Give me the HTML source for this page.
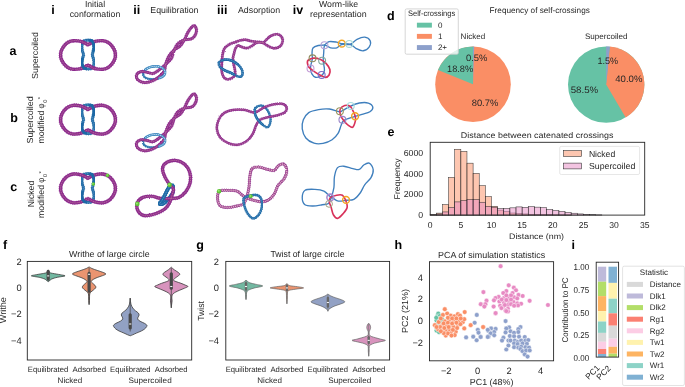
<!DOCTYPE html>
<html lang="en"><head><meta charset="utf-8"><title>Figure</title>
<style>html,body{margin:0;padding:0;background:#fff;}svg{display:block;}</style></head>
<body>
<svg width="685" height="387" viewBox="0 0 685 387" font-family='"Liberation Sans", Arial, Helvetica, sans-serif' fill="#262626" text-rendering="geometricPrecision">
<rect width="685" height="387" fill="#ffffff"/>
<defs><filter id="soft" x="0" y="0" width="100%" height="100%" filterUnits="userSpaceOnUse" color-interpolation-filters="sRGB"><feGaussianBlur stdDeviation="0.32"/></filter><filter id="rough" x="-5%" y="-5%" width="110%" height="110%"><feTurbulence type="fractalNoise" baseFrequency="0.45" numOctaves="2" seed="7" result="n"/><feDisplacementMap in="SourceGraphic" in2="n" scale="1.5" xChannelSelector="R" yChannelSelector="G"/></filter></defs>
<g filter="url(#soft)">
<text x="51.2" y="13.7" font-size="12.5" font-weight="bold" fill="#000000">i</text>
<text x="95" y="7" font-size="8.75" text-anchor="middle" textLength="20.2" lengthAdjust="spacingAndGlyphs">Initial</text>
<text x="95" y="17.4" font-size="8.75" text-anchor="middle" textLength="50.5" lengthAdjust="spacingAndGlyphs">conformation</text>
<text x="133.2" y="13.5" font-size="12.5" font-weight="bold" fill="#000000" textLength="7" lengthAdjust="spacingAndGlyphs">ii</text>
<text x="150.3" y="13" font-size="8.75" textLength="48.2" lengthAdjust="spacingAndGlyphs">Equilibration</text>
<text x="217.1" y="13.5" font-size="12.5" font-weight="bold" fill="#000000" textLength="10.4" lengthAdjust="spacingAndGlyphs">iii</text>
<text x="238" y="12.7" font-size="8.75" textLength="42.1" lengthAdjust="spacingAndGlyphs">Adsorption</text>
<text x="292.8" y="13.7" font-size="12.5" font-weight="bold" fill="#000000" textLength="10.4" lengthAdjust="spacingAndGlyphs">iv</text>
<text x="338.6" y="7" font-size="8.75" text-anchor="middle" textLength="39.2" lengthAdjust="spacingAndGlyphs">Worm-like</text>
<text x="338.3" y="17.3" font-size="8.75" text-anchor="middle" textLength="56.7" lengthAdjust="spacingAndGlyphs">representation</text>
<text x="9.6" y="54.8" font-size="12.5" font-weight="bold" fill="#000000">a</text>
<text x="10.3" y="122.2" font-size="12.5" font-weight="bold" fill="#000000">b</text>
<text x="10.3" y="191" font-size="12.5" font-weight="bold" fill="#000000">c</text>
<text x="38" y="55.5" font-size="8.75" text-anchor="middle" textLength="47" lengthAdjust="spacingAndGlyphs" transform="rotate(-90 38 55.5)">Supercoiled</text>
<text x="33.5" y="119.9" font-size="8.75" text-anchor="middle" textLength="47.4" lengthAdjust="spacingAndGlyphs" transform="rotate(-90 33.5 119.9)">Supercoiled</text>
<text x="43.9" y="143.6" font-size="8.75" textLength="32.9" lengthAdjust="spacingAndGlyphs" transform="rotate(-90 43.9 143.6)">modified</text>
<text x="43.9" y="108.4" font-size="8.75" textLength="5" lengthAdjust="spacingAndGlyphs" transform="rotate(-90 43.9 108.4)">φ</text>
<text x="46.7" y="102.7" font-size="5.6" transform="rotate(-90 46.7 102.7)">0</text>
<text x="42.5" y="99.2" font-size="5.8" transform="rotate(-90 42.5 99.2)">*</text>
<text x="33.5" y="194" font-size="8.75" text-anchor="middle" textLength="26.5" lengthAdjust="spacingAndGlyphs" transform="rotate(-90 33.5 194)">Nicked</text>
<text x="43.9" y="217.9" font-size="8.75" textLength="32.9" lengthAdjust="spacingAndGlyphs" transform="rotate(-90 43.9 217.9)">modified</text>
<text x="43.9" y="182.7" font-size="8.75" textLength="5" lengthAdjust="spacingAndGlyphs" transform="rotate(-90 43.9 182.7)">φ</text>
<text x="46.7" y="177" font-size="5.6" transform="rotate(-90 46.7 177)">0</text>
<text x="42.5" y="173.5" font-size="5.8" transform="rotate(-90 42.5 173.5)">*</text>
<g fill="none" stroke-linecap="round" stroke-linejoin="round" filter="url(#rough)">
<path d="M83.4,41.4C82.38,42.43 82.07,44.82 81.9,46.4C81.73,47.98 82.13,49.48 82.4,50.9C82.67,52.32 83.5,53.57 83.5,54.9C83.5,56.23 82.67,57.48 82.4,58.9C82.13,60.32 81.67,61.92 81.9,63.4C82.13,64.88 82.78,66.87 83.8,67.8C84.82,68.73 86.6,68.97 88,69C89.4,69.03 91.2,68.93 92.2,68C93.2,67.07 93.78,64.92 94,63.4C94.22,61.88 93.77,60.32 93.5,58.9C93.23,57.48 92.43,56.23 92.4,54.9C92.37,53.57 93.03,52.32 93.3,50.9C93.57,49.48 94.18,48.02 94,46.4C93.82,44.78 93.2,42.23 92.2,41.2C91.2,40.17 89.47,40.17 88,40.2C86.53,40.23 84.42,40.37 83.4,41.4Z" stroke="#1f69a6" stroke-width="2.7"/>
<path d="M83.4,41.4C82.38,42.43 82.07,44.82 81.9,46.4C81.73,47.98 82.13,49.48 82.4,50.9C82.67,52.32 83.5,53.57 83.5,54.9C83.5,56.23 82.67,57.48 82.4,58.9C82.13,60.32 81.67,61.92 81.9,63.4C82.13,64.88 82.78,66.87 83.8,67.8C84.82,68.73 86.6,68.97 88,69C89.4,69.03 91.2,68.93 92.2,68C93.2,67.07 93.78,64.92 94,63.4C94.22,61.88 93.77,60.32 93.5,58.9C93.23,57.48 92.43,56.23 92.4,54.9C92.37,53.57 93.03,52.32 93.3,50.9C93.57,49.48 94.18,48.02 94,46.4C93.82,44.78 93.2,42.23 92.2,41.2C91.2,40.17 89.47,40.17 88,40.2C86.53,40.23 84.42,40.37 83.4,41.4Z" stroke="#1f69a6" stroke-width="3.4" stroke-dasharray="0.9 1.1" stroke-linecap="butt" opacity="0.75"/>
<path d="M83.4,41.4C82.38,42.43 82.07,44.82 81.9,46.4C81.73,47.98 82.13,49.48 82.4,50.9C82.67,52.32 83.5,53.57 83.5,54.9C83.5,56.23 82.67,57.48 82.4,58.9C82.13,60.32 81.67,61.92 81.9,63.4C82.13,64.88 82.78,66.87 83.8,67.8C84.82,68.73 86.6,68.97 88,69C89.4,69.03 91.2,68.93 92.2,68C93.2,67.07 93.78,64.92 94,63.4C94.22,61.88 93.77,60.32 93.5,58.9C93.23,57.48 92.43,56.23 92.4,54.9C92.37,53.57 93.03,52.32 93.3,50.9C93.57,49.48 94.18,48.02 94,46.4C93.82,44.78 93.2,42.23 92.2,41.2C91.2,40.17 89.47,40.17 88,40.2C86.53,40.23 84.42,40.37 83.4,41.4Z" stroke="#9ccbe6" stroke-width="0.5" opacity="0.85" stroke-dasharray="1.2 0.7" stroke-linecap="butt"/>
</g>
<g fill="none" stroke-linecap="round" stroke-linejoin="round" filter="url(#rough)">
<path d="M88,44.6C87.25,44.23 85,43 83.5,42.4C82,41.8 80.67,41.3 79,41C77.33,40.7 75.33,40.37 73.5,40.6C71.67,40.83 69.63,41.43 68,42.4C66.37,43.37 64.85,44.9 63.7,46.4C62.55,47.9 61.62,49.9 61.1,51.4C60.58,52.9 60.6,54.2 60.6,55.4C60.6,56.6 60.58,57.23 61.1,58.6C61.62,59.97 62.55,62.1 63.7,63.6C64.85,65.1 66.37,66.63 68,67.6C69.63,68.57 71.67,69.17 73.5,69.4C75.33,69.63 77.33,69.3 79,69C80.67,68.7 82,68.2 83.5,67.6C85,67 86.5,65.4 88,65.4C89.5,65.4 91,67 92.5,67.6C94,68.2 95.33,68.7 97,69C98.67,69.3 100.67,69.63 102.5,69.4C104.33,69.17 106.37,68.57 108,67.6C109.63,66.63 111.15,65.1 112.3,63.6C113.45,62.1 114.38,59.97 114.9,58.6C115.42,57.23 115.4,56.6 115.4,55.4C115.4,54.2 115.42,52.9 114.9,51.4C114.38,49.9 113.45,47.9 112.3,46.4C111.15,44.9 109.63,43.37 108,42.4C106.37,41.43 104.33,40.83 102.5,40.6C100.67,40.37 98.67,40.7 97,41C95.33,41.3 94,41.8 92.5,42.4C91,43 88.75,44.23 88,44.6C87.25,44.97 88.75,44.97 88,44.6Z" stroke="#8d2c8e" stroke-width="3.3"/>
<path d="M88,44.6C87.25,44.23 85,43 83.5,42.4C82,41.8 80.67,41.3 79,41C77.33,40.7 75.33,40.37 73.5,40.6C71.67,40.83 69.63,41.43 68,42.4C66.37,43.37 64.85,44.9 63.7,46.4C62.55,47.9 61.62,49.9 61.1,51.4C60.58,52.9 60.6,54.2 60.6,55.4C60.6,56.6 60.58,57.23 61.1,58.6C61.62,59.97 62.55,62.1 63.7,63.6C64.85,65.1 66.37,66.63 68,67.6C69.63,68.57 71.67,69.17 73.5,69.4C75.33,69.63 77.33,69.3 79,69C80.67,68.7 82,68.2 83.5,67.6C85,67 86.5,65.4 88,65.4C89.5,65.4 91,67 92.5,67.6C94,68.2 95.33,68.7 97,69C98.67,69.3 100.67,69.63 102.5,69.4C104.33,69.17 106.37,68.57 108,67.6C109.63,66.63 111.15,65.1 112.3,63.6C113.45,62.1 114.38,59.97 114.9,58.6C115.42,57.23 115.4,56.6 115.4,55.4C115.4,54.2 115.42,52.9 114.9,51.4C114.38,49.9 113.45,47.9 112.3,46.4C111.15,44.9 109.63,43.37 108,42.4C106.37,41.43 104.33,40.83 102.5,40.6C100.67,40.37 98.67,40.7 97,41C95.33,41.3 94,41.8 92.5,42.4C91,43 88.75,44.23 88,44.6C87.25,44.97 88.75,44.97 88,44.6Z" stroke="#8d2c8e" stroke-width="4" stroke-dasharray="0.9 1.1" stroke-linecap="butt" opacity="0.75"/>
<path d="M88,44.6C87.25,44.23 85,43 83.5,42.4C82,41.8 80.67,41.3 79,41C77.33,40.7 75.33,40.37 73.5,40.6C71.67,40.83 69.63,41.43 68,42.4C66.37,43.37 64.85,44.9 63.7,46.4C62.55,47.9 61.62,49.9 61.1,51.4C60.58,52.9 60.6,54.2 60.6,55.4C60.6,56.6 60.58,57.23 61.1,58.6C61.62,59.97 62.55,62.1 63.7,63.6C64.85,65.1 66.37,66.63 68,67.6C69.63,68.57 71.67,69.17 73.5,69.4C75.33,69.63 77.33,69.3 79,69C80.67,68.7 82,68.2 83.5,67.6C85,67 86.5,65.4 88,65.4C89.5,65.4 91,67 92.5,67.6C94,68.2 95.33,68.7 97,69C98.67,69.3 100.67,69.63 102.5,69.4C104.33,69.17 106.37,68.57 108,67.6C109.63,66.63 111.15,65.1 112.3,63.6C113.45,62.1 114.38,59.97 114.9,58.6C115.42,57.23 115.4,56.6 115.4,55.4C115.4,54.2 115.42,52.9 114.9,51.4C114.38,49.9 113.45,47.9 112.3,46.4C111.15,44.9 109.63,43.37 108,42.4C106.37,41.43 104.33,40.83 102.5,40.6C100.67,40.37 98.67,40.7 97,41C95.33,41.3 94,41.8 92.5,42.4C91,43 88.75,44.23 88,44.6C87.25,44.97 88.75,44.97 88,44.6Z" stroke="#d9a3a0" stroke-width="0.6" opacity="0.85" stroke-dasharray="1.2 0.7" stroke-linecap="butt"/>
</g>
<g fill="none" stroke-linecap="round" stroke-linejoin="round" filter="url(#rough)">
<path d="M89.5,40.4C89.95,40.53 91.45,40.2 92.2,41.2C92.95,42.2 93.82,44.78 94,46.4C94.18,48.02 93.42,50.15 93.3,50.9" stroke="#1f69a6" stroke-width="2.7"/>
<path d="M89.5,40.4C89.95,40.53 91.45,40.2 92.2,41.2C92.95,42.2 93.82,44.78 94,46.4C94.18,48.02 93.42,50.15 93.3,50.9" stroke="#1f69a6" stroke-width="3.4" stroke-dasharray="0.9 1.1" stroke-linecap="butt" opacity="0.75"/>
</g>
<g fill="none" stroke-linecap="round" stroke-linejoin="round" filter="url(#rough)">
<path d="M86.5,68.8C86.05,68.63 84.57,68.7 83.8,67.8C83.03,66.9 82.13,64.88 81.9,63.4C81.67,61.92 82.32,59.65 82.4,58.9" stroke="#1f69a6" stroke-width="2.7"/>
<path d="M86.5,68.8C86.05,68.63 84.57,68.7 83.8,67.8C83.03,66.9 82.13,64.88 81.9,63.4C81.67,61.92 82.32,59.65 82.4,58.9" stroke="#1f69a6" stroke-width="3.4" stroke-dasharray="0.9 1.1" stroke-linecap="butt" opacity="0.75"/>
</g>
<g fill="none" stroke-linecap="round" stroke-linejoin="round" filter="url(#rough)">
<path d="M83.4,106.1C82.38,107.13 82.07,109.52 81.9,111.1C81.73,112.68 82.13,114.18 82.4,115.6C82.67,117.02 83.5,118.27 83.5,119.6C83.5,120.93 82.67,122.18 82.4,123.6C82.13,125.02 81.67,126.62 81.9,128.1C82.13,129.58 82.78,131.57 83.8,132.5C84.82,133.43 86.6,133.67 88,133.7C89.4,133.73 91.2,133.63 92.2,132.7C93.2,131.77 93.78,129.62 94,128.1C94.22,126.58 93.77,125.02 93.5,123.6C93.23,122.18 92.43,120.93 92.4,119.6C92.37,118.27 93.03,117.02 93.3,115.6C93.57,114.18 94.18,112.72 94,111.1C93.82,109.48 93.2,106.93 92.2,105.9C91.2,104.87 89.47,104.87 88,104.9C86.53,104.93 84.42,105.07 83.4,106.1Z" stroke="#1f69a6" stroke-width="2.7"/>
<path d="M83.4,106.1C82.38,107.13 82.07,109.52 81.9,111.1C81.73,112.68 82.13,114.18 82.4,115.6C82.67,117.02 83.5,118.27 83.5,119.6C83.5,120.93 82.67,122.18 82.4,123.6C82.13,125.02 81.67,126.62 81.9,128.1C82.13,129.58 82.78,131.57 83.8,132.5C84.82,133.43 86.6,133.67 88,133.7C89.4,133.73 91.2,133.63 92.2,132.7C93.2,131.77 93.78,129.62 94,128.1C94.22,126.58 93.77,125.02 93.5,123.6C93.23,122.18 92.43,120.93 92.4,119.6C92.37,118.27 93.03,117.02 93.3,115.6C93.57,114.18 94.18,112.72 94,111.1C93.82,109.48 93.2,106.93 92.2,105.9C91.2,104.87 89.47,104.87 88,104.9C86.53,104.93 84.42,105.07 83.4,106.1Z" stroke="#1f69a6" stroke-width="3.4" stroke-dasharray="0.9 1.1" stroke-linecap="butt" opacity="0.75"/>
<path d="M83.4,106.1C82.38,107.13 82.07,109.52 81.9,111.1C81.73,112.68 82.13,114.18 82.4,115.6C82.67,117.02 83.5,118.27 83.5,119.6C83.5,120.93 82.67,122.18 82.4,123.6C82.13,125.02 81.67,126.62 81.9,128.1C82.13,129.58 82.78,131.57 83.8,132.5C84.82,133.43 86.6,133.67 88,133.7C89.4,133.73 91.2,133.63 92.2,132.7C93.2,131.77 93.78,129.62 94,128.1C94.22,126.58 93.77,125.02 93.5,123.6C93.23,122.18 92.43,120.93 92.4,119.6C92.37,118.27 93.03,117.02 93.3,115.6C93.57,114.18 94.18,112.72 94,111.1C93.82,109.48 93.2,106.93 92.2,105.9C91.2,104.87 89.47,104.87 88,104.9C86.53,104.93 84.42,105.07 83.4,106.1Z" stroke="#9ccbe6" stroke-width="0.5" opacity="0.85" stroke-dasharray="1.2 0.7" stroke-linecap="butt"/>
</g>
<g fill="none" stroke-linecap="round" stroke-linejoin="round" filter="url(#rough)">
<path d="M88,109.3C87.25,108.93 85,107.7 83.5,107.1C82,106.5 80.67,106 79,105.7C77.33,105.4 75.33,105.07 73.5,105.3C71.67,105.53 69.63,106.13 68,107.1C66.37,108.07 64.85,109.6 63.7,111.1C62.55,112.6 61.62,114.6 61.1,116.1C60.58,117.6 60.6,118.9 60.6,120.1C60.6,121.3 60.58,121.93 61.1,123.3C61.62,124.67 62.55,126.8 63.7,128.3C64.85,129.8 66.37,131.33 68,132.3C69.63,133.27 71.67,133.87 73.5,134.1C75.33,134.33 77.33,134 79,133.7C80.67,133.4 82,132.9 83.5,132.3C85,131.7 86.5,130.1 88,130.1C89.5,130.1 91,131.7 92.5,132.3C94,132.9 95.33,133.4 97,133.7C98.67,134 100.67,134.33 102.5,134.1C104.33,133.87 106.37,133.27 108,132.3C109.63,131.33 111.15,129.8 112.3,128.3C113.45,126.8 114.38,124.67 114.9,123.3C115.42,121.93 115.4,121.3 115.4,120.1C115.4,118.9 115.42,117.6 114.9,116.1C114.38,114.6 113.45,112.6 112.3,111.1C111.15,109.6 109.63,108.07 108,107.1C106.37,106.13 104.33,105.53 102.5,105.3C100.67,105.07 98.67,105.4 97,105.7C95.33,106 94,106.5 92.5,107.1C91,107.7 88.75,108.93 88,109.3C87.25,109.67 88.75,109.67 88,109.3Z" stroke="#8d2c8e" stroke-width="3.3"/>
<path d="M88,109.3C87.25,108.93 85,107.7 83.5,107.1C82,106.5 80.67,106 79,105.7C77.33,105.4 75.33,105.07 73.5,105.3C71.67,105.53 69.63,106.13 68,107.1C66.37,108.07 64.85,109.6 63.7,111.1C62.55,112.6 61.62,114.6 61.1,116.1C60.58,117.6 60.6,118.9 60.6,120.1C60.6,121.3 60.58,121.93 61.1,123.3C61.62,124.67 62.55,126.8 63.7,128.3C64.85,129.8 66.37,131.33 68,132.3C69.63,133.27 71.67,133.87 73.5,134.1C75.33,134.33 77.33,134 79,133.7C80.67,133.4 82,132.9 83.5,132.3C85,131.7 86.5,130.1 88,130.1C89.5,130.1 91,131.7 92.5,132.3C94,132.9 95.33,133.4 97,133.7C98.67,134 100.67,134.33 102.5,134.1C104.33,133.87 106.37,133.27 108,132.3C109.63,131.33 111.15,129.8 112.3,128.3C113.45,126.8 114.38,124.67 114.9,123.3C115.42,121.93 115.4,121.3 115.4,120.1C115.4,118.9 115.42,117.6 114.9,116.1C114.38,114.6 113.45,112.6 112.3,111.1C111.15,109.6 109.63,108.07 108,107.1C106.37,106.13 104.33,105.53 102.5,105.3C100.67,105.07 98.67,105.4 97,105.7C95.33,106 94,106.5 92.5,107.1C91,107.7 88.75,108.93 88,109.3C87.25,109.67 88.75,109.67 88,109.3Z" stroke="#8d2c8e" stroke-width="4" stroke-dasharray="0.9 1.1" stroke-linecap="butt" opacity="0.75"/>
<path d="M88,109.3C87.25,108.93 85,107.7 83.5,107.1C82,106.5 80.67,106 79,105.7C77.33,105.4 75.33,105.07 73.5,105.3C71.67,105.53 69.63,106.13 68,107.1C66.37,108.07 64.85,109.6 63.7,111.1C62.55,112.6 61.62,114.6 61.1,116.1C60.58,117.6 60.6,118.9 60.6,120.1C60.6,121.3 60.58,121.93 61.1,123.3C61.62,124.67 62.55,126.8 63.7,128.3C64.85,129.8 66.37,131.33 68,132.3C69.63,133.27 71.67,133.87 73.5,134.1C75.33,134.33 77.33,134 79,133.7C80.67,133.4 82,132.9 83.5,132.3C85,131.7 86.5,130.1 88,130.1C89.5,130.1 91,131.7 92.5,132.3C94,132.9 95.33,133.4 97,133.7C98.67,134 100.67,134.33 102.5,134.1C104.33,133.87 106.37,133.27 108,132.3C109.63,131.33 111.15,129.8 112.3,128.3C113.45,126.8 114.38,124.67 114.9,123.3C115.42,121.93 115.4,121.3 115.4,120.1C115.4,118.9 115.42,117.6 114.9,116.1C114.38,114.6 113.45,112.6 112.3,111.1C111.15,109.6 109.63,108.07 108,107.1C106.37,106.13 104.33,105.53 102.5,105.3C100.67,105.07 98.67,105.4 97,105.7C95.33,106 94,106.5 92.5,107.1C91,107.7 88.75,108.93 88,109.3C87.25,109.67 88.75,109.67 88,109.3Z" stroke="#d9a3a0" stroke-width="0.6" opacity="0.85" stroke-dasharray="1.2 0.7" stroke-linecap="butt"/>
</g>
<g fill="none" stroke-linecap="round" stroke-linejoin="round" filter="url(#rough)">
<path d="M89.5,105.1C89.95,105.23 91.45,104.9 92.2,105.9C92.95,106.9 93.82,109.48 94,111.1C94.18,112.72 93.42,114.85 93.3,115.6" stroke="#1f69a6" stroke-width="2.7"/>
<path d="M89.5,105.1C89.95,105.23 91.45,104.9 92.2,105.9C92.95,106.9 93.82,109.48 94,111.1C94.18,112.72 93.42,114.85 93.3,115.6" stroke="#1f69a6" stroke-width="3.4" stroke-dasharray="0.9 1.1" stroke-linecap="butt" opacity="0.75"/>
</g>
<g fill="none" stroke-linecap="round" stroke-linejoin="round" filter="url(#rough)">
<path d="M86.5,133.5C86.05,133.33 84.57,133.4 83.8,132.5C83.03,131.6 82.13,129.58 81.9,128.1C81.67,126.62 82.32,124.35 82.4,123.6" stroke="#1f69a6" stroke-width="2.7"/>
<path d="M86.5,133.5C86.05,133.33 84.57,133.4 83.8,132.5C83.03,131.6 82.13,129.58 81.9,128.1C81.67,126.62 82.32,124.35 82.4,123.6" stroke="#1f69a6" stroke-width="3.4" stroke-dasharray="0.9 1.1" stroke-linecap="butt" opacity="0.75"/>
</g>
<g fill="none" stroke-linecap="round" stroke-linejoin="round" filter="url(#rough)">
<path d="M83.4,174.8C82.38,175.83 82.07,178.22 81.9,179.8C81.73,181.38 82.13,182.88 82.4,184.3C82.67,185.72 83.5,186.97 83.5,188.3C83.5,189.63 82.67,190.88 82.4,192.3C82.13,193.72 81.67,195.32 81.9,196.8C82.13,198.28 82.78,200.27 83.8,201.2C84.82,202.13 86.6,202.37 88,202.4C89.4,202.43 91.2,202.33 92.2,201.4C93.2,200.47 93.78,198.32 94,196.8C94.22,195.28 93.77,193.72 93.5,192.3C93.23,190.88 92.43,189.63 92.4,188.3C92.37,186.97 93.03,185.72 93.3,184.3C93.57,182.88 94.18,181.42 94,179.8C93.82,178.18 93.2,175.63 92.2,174.6C91.2,173.57 89.47,173.57 88,173.6C86.53,173.63 84.42,173.77 83.4,174.8Z" stroke="#1f69a6" stroke-width="2.7"/>
<path d="M83.4,174.8C82.38,175.83 82.07,178.22 81.9,179.8C81.73,181.38 82.13,182.88 82.4,184.3C82.67,185.72 83.5,186.97 83.5,188.3C83.5,189.63 82.67,190.88 82.4,192.3C82.13,193.72 81.67,195.32 81.9,196.8C82.13,198.28 82.78,200.27 83.8,201.2C84.82,202.13 86.6,202.37 88,202.4C89.4,202.43 91.2,202.33 92.2,201.4C93.2,200.47 93.78,198.32 94,196.8C94.22,195.28 93.77,193.72 93.5,192.3C93.23,190.88 92.43,189.63 92.4,188.3C92.37,186.97 93.03,185.72 93.3,184.3C93.57,182.88 94.18,181.42 94,179.8C93.82,178.18 93.2,175.63 92.2,174.6C91.2,173.57 89.47,173.57 88,173.6C86.53,173.63 84.42,173.77 83.4,174.8Z" stroke="#1f69a6" stroke-width="3.4" stroke-dasharray="0.9 1.1" stroke-linecap="butt" opacity="0.75"/>
<path d="M83.4,174.8C82.38,175.83 82.07,178.22 81.9,179.8C81.73,181.38 82.13,182.88 82.4,184.3C82.67,185.72 83.5,186.97 83.5,188.3C83.5,189.63 82.67,190.88 82.4,192.3C82.13,193.72 81.67,195.32 81.9,196.8C82.13,198.28 82.78,200.27 83.8,201.2C84.82,202.13 86.6,202.37 88,202.4C89.4,202.43 91.2,202.33 92.2,201.4C93.2,200.47 93.78,198.32 94,196.8C94.22,195.28 93.77,193.72 93.5,192.3C93.23,190.88 92.43,189.63 92.4,188.3C92.37,186.97 93.03,185.72 93.3,184.3C93.57,182.88 94.18,181.42 94,179.8C93.82,178.18 93.2,175.63 92.2,174.6C91.2,173.57 89.47,173.57 88,173.6C86.53,173.63 84.42,173.77 83.4,174.8Z" stroke="#9ccbe6" stroke-width="0.5" opacity="0.85" stroke-dasharray="1.2 0.7" stroke-linecap="butt"/>
</g>
<g fill="none" stroke-linecap="round" stroke-linejoin="round" filter="url(#rough)">
<path d="M88,178C87.25,177.63 85,176.4 83.5,175.8C82,175.2 80.67,174.7 79,174.4C77.33,174.1 75.33,173.77 73.5,174C71.67,174.23 69.63,174.83 68,175.8C66.37,176.77 64.85,178.3 63.7,179.8C62.55,181.3 61.62,183.3 61.1,184.8C60.58,186.3 60.6,187.6 60.6,188.8C60.6,190 60.58,190.63 61.1,192C61.62,193.37 62.55,195.5 63.7,197C64.85,198.5 66.37,200.03 68,201C69.63,201.97 71.67,202.57 73.5,202.8C75.33,203.03 77.33,202.7 79,202.4C80.67,202.1 82,201.6 83.5,201C85,200.4 86.5,198.8 88,198.8C89.5,198.8 91,200.4 92.5,201C94,201.6 95.33,202.1 97,202.4C98.67,202.7 100.67,203.03 102.5,202.8C104.33,202.57 106.37,201.97 108,201C109.63,200.03 111.15,198.5 112.3,197C113.45,195.5 114.38,193.37 114.9,192C115.42,190.63 115.4,190 115.4,188.8C115.4,187.6 115.42,186.3 114.9,184.8C114.38,183.3 113.45,181.3 112.3,179.8C111.15,178.3 109.63,176.77 108,175.8C106.37,174.83 104.33,174.23 102.5,174C100.67,173.77 98.67,174.1 97,174.4C95.33,174.7 94,175.2 92.5,175.8C91,176.4 88.75,177.63 88,178C87.25,178.37 88.75,178.37 88,178Z" stroke="#8d2c8e" stroke-width="3.3"/>
<path d="M88,178C87.25,177.63 85,176.4 83.5,175.8C82,175.2 80.67,174.7 79,174.4C77.33,174.1 75.33,173.77 73.5,174C71.67,174.23 69.63,174.83 68,175.8C66.37,176.77 64.85,178.3 63.7,179.8C62.55,181.3 61.62,183.3 61.1,184.8C60.58,186.3 60.6,187.6 60.6,188.8C60.6,190 60.58,190.63 61.1,192C61.62,193.37 62.55,195.5 63.7,197C64.85,198.5 66.37,200.03 68,201C69.63,201.97 71.67,202.57 73.5,202.8C75.33,203.03 77.33,202.7 79,202.4C80.67,202.1 82,201.6 83.5,201C85,200.4 86.5,198.8 88,198.8C89.5,198.8 91,200.4 92.5,201C94,201.6 95.33,202.1 97,202.4C98.67,202.7 100.67,203.03 102.5,202.8C104.33,202.57 106.37,201.97 108,201C109.63,200.03 111.15,198.5 112.3,197C113.45,195.5 114.38,193.37 114.9,192C115.42,190.63 115.4,190 115.4,188.8C115.4,187.6 115.42,186.3 114.9,184.8C114.38,183.3 113.45,181.3 112.3,179.8C111.15,178.3 109.63,176.77 108,175.8C106.37,174.83 104.33,174.23 102.5,174C100.67,173.77 98.67,174.1 97,174.4C95.33,174.7 94,175.2 92.5,175.8C91,176.4 88.75,177.63 88,178C87.25,178.37 88.75,178.37 88,178Z" stroke="#8d2c8e" stroke-width="4" stroke-dasharray="0.9 1.1" stroke-linecap="butt" opacity="0.75"/>
<path d="M88,178C87.25,177.63 85,176.4 83.5,175.8C82,175.2 80.67,174.7 79,174.4C77.33,174.1 75.33,173.77 73.5,174C71.67,174.23 69.63,174.83 68,175.8C66.37,176.77 64.85,178.3 63.7,179.8C62.55,181.3 61.62,183.3 61.1,184.8C60.58,186.3 60.6,187.6 60.6,188.8C60.6,190 60.58,190.63 61.1,192C61.62,193.37 62.55,195.5 63.7,197C64.85,198.5 66.37,200.03 68,201C69.63,201.97 71.67,202.57 73.5,202.8C75.33,203.03 77.33,202.7 79,202.4C80.67,202.1 82,201.6 83.5,201C85,200.4 86.5,198.8 88,198.8C89.5,198.8 91,200.4 92.5,201C94,201.6 95.33,202.1 97,202.4C98.67,202.7 100.67,203.03 102.5,202.8C104.33,202.57 106.37,201.97 108,201C109.63,200.03 111.15,198.5 112.3,197C113.45,195.5 114.38,193.37 114.9,192C115.42,190.63 115.4,190 115.4,188.8C115.4,187.6 115.42,186.3 114.9,184.8C114.38,183.3 113.45,181.3 112.3,179.8C111.15,178.3 109.63,176.77 108,175.8C106.37,174.83 104.33,174.23 102.5,174C100.67,173.77 98.67,174.1 97,174.4C95.33,174.7 94,175.2 92.5,175.8C91,176.4 88.75,177.63 88,178C87.25,178.37 88.75,178.37 88,178Z" stroke="#d9a3a0" stroke-width="0.6" opacity="0.85" stroke-dasharray="1.2 0.7" stroke-linecap="butt"/>
</g>
<g fill="none" stroke-linecap="round" stroke-linejoin="round" filter="url(#rough)">
<path d="M89.5,173.8C89.95,173.93 91.45,173.6 92.2,174.6C92.95,175.6 93.82,178.18 94,179.8C94.18,181.42 93.42,183.55 93.3,184.3" stroke="#1f69a6" stroke-width="2.7"/>
<path d="M89.5,173.8C89.95,173.93 91.45,173.6 92.2,174.6C92.95,175.6 93.82,178.18 94,179.8C94.18,181.42 93.42,183.55 93.3,184.3" stroke="#1f69a6" stroke-width="3.4" stroke-dasharray="0.9 1.1" stroke-linecap="butt" opacity="0.75"/>
</g>
<g fill="none" stroke-linecap="round" stroke-linejoin="round" filter="url(#rough)">
<path d="M86.5,202.2C86.05,202.03 84.57,202.1 83.8,201.2C83.03,200.3 82.13,198.28 81.9,196.8C81.67,195.32 82.32,193.05 82.4,192.3" stroke="#1f69a6" stroke-width="2.7"/>
<path d="M86.5,202.2C86.05,202.03 84.57,202.1 83.8,201.2C83.03,200.3 82.13,198.28 81.9,196.8C81.67,195.32 82.32,193.05 82.4,192.3" stroke="#1f69a6" stroke-width="3.4" stroke-dasharray="0.9 1.1" stroke-linecap="butt" opacity="0.75"/>
</g>
<circle cx="107.5" cy="175.4" r="1.8" fill="#5cc535"/>
<circle cx="107.1" cy="175" r="0.81" fill="#9be36f"/>
<circle cx="93.3" cy="184.1" r="1.8" fill="#5cc535"/>
<circle cx="92.9" cy="183.7" r="0.81" fill="#9be36f"/>
<g fill="none" stroke-linecap="round" stroke-linejoin="round" filter="url(#rough)">
<path d="M143.03,73.76C143.03,72.4 144.09,70.74 145.38,69.59C146.68,68.45 148.85,67.42 150.81,66.88C152.78,66.33 155.19,66.12 157.15,66.33C159.11,66.55 161.25,67.24 162.58,68.14C163.91,69.05 164.93,70.5 165.11,71.76C165.29,73.03 164.69,74.66 163.67,75.75C162.64,76.83 160.95,77.71 158.96,78.28C156.97,78.85 153.98,79.28 151.72,79.19C149.46,79.1 146.83,78.64 145.38,77.74C143.94,76.83 143.03,75.11 143.03,73.76Z" stroke="#1f69a6" stroke-width="1.9"/>
<path d="M143.03,73.76C143.03,72.4 144.09,70.74 145.38,69.59C146.68,68.45 148.85,67.42 150.81,66.88C152.78,66.33 155.19,66.12 157.15,66.33C159.11,66.55 161.25,67.24 162.58,68.14C163.91,69.05 164.93,70.5 165.11,71.76C165.29,73.03 164.69,74.66 163.67,75.75C162.64,76.83 160.95,77.71 158.96,78.28C156.97,78.85 153.98,79.28 151.72,79.19C149.46,79.1 146.83,78.64 145.38,77.74C143.94,76.83 143.03,75.11 143.03,73.76Z" stroke="#1f69a6" stroke-width="2.6" stroke-dasharray="0.9 1.1" stroke-linecap="butt" opacity="0.75"/>
<path d="M143.03,73.76C143.03,72.4 144.09,70.74 145.38,69.59C146.68,68.45 148.85,67.42 150.81,66.88C152.78,66.33 155.19,66.12 157.15,66.33C159.11,66.55 161.25,67.24 162.58,68.14C163.91,69.05 164.93,70.5 165.11,71.76C165.29,73.03 164.69,74.66 163.67,75.75C162.64,76.83 160.95,77.71 158.96,78.28C156.97,78.85 153.98,79.28 151.72,79.19C149.46,79.1 146.83,78.64 145.38,77.74C143.94,76.83 143.03,75.11 143.03,73.76Z" stroke="#9ccbe6" stroke-width="0.5" opacity="0.85" stroke-dasharray="1.2 0.7" stroke-linecap="butt"/>
</g>
<g fill="none" stroke-linecap="round" stroke-linejoin="round" filter="url(#rough)">
<path d="M184.3,39.91C186.62,39.06 189.7,39.67 191.54,38.82C193.38,37.98 194.52,36.41 195.34,34.84C196.15,33.27 196.67,30.95 196.43,29.41C196.18,27.87 194.83,25.82 193.89,25.61C192.96,25.4 191.87,26.91 190.81,28.14C189.76,29.38 188.64,31.07 187.56,33.03C186.47,34.99 185.54,37.74 184.3,39.91C183.06,42.08 181.79,44.4 180.14,46.06C178.48,47.72 176.21,48.21 174.34,49.86C172.47,51.52 170.36,53.6 168.91,56.02C167.47,58.43 166.41,61.9 165.66,64.34C164.9,66.79 165.35,68.72 164.39,70.68C163.42,72.64 161.83,74.42 159.86,76.11C157.9,77.8 155.19,79.73 152.62,80.81C150.06,81.9 146.95,82.81 144.48,82.62C142.01,82.44 139.08,81.06 137.78,79.73C136.49,78.4 136.18,76.02 136.7,74.66C137.21,73.3 139.2,72.01 140.86,71.58C142.52,71.16 144.69,71.79 146.65,72.13C148.61,72.46 150.81,73.76 152.62,73.57C154.43,73.39 155.97,72.04 157.51,71.04C159.05,70.05 160.5,68.72 161.86,67.6C163.21,66.49 164.06,65.91 165.66,64.34C167.25,62.78 170,60.6 171.45,58.19C172.9,55.78 173.32,52.25 174.34,49.86C175.37,47.48 175.94,45.55 177.6,43.89C179.26,42.23 181.98,40.75 184.3,39.91Z" stroke="#8d2c8e" stroke-width="2.75"/>
<path d="M184.3,39.91C186.62,39.06 189.7,39.67 191.54,38.82C193.38,37.98 194.52,36.41 195.34,34.84C196.15,33.27 196.67,30.95 196.43,29.41C196.18,27.87 194.83,25.82 193.89,25.61C192.96,25.4 191.87,26.91 190.81,28.14C189.76,29.38 188.64,31.07 187.56,33.03C186.47,34.99 185.54,37.74 184.3,39.91C183.06,42.08 181.79,44.4 180.14,46.06C178.48,47.72 176.21,48.21 174.34,49.86C172.47,51.52 170.36,53.6 168.91,56.02C167.47,58.43 166.41,61.9 165.66,64.34C164.9,66.79 165.35,68.72 164.39,70.68C163.42,72.64 161.83,74.42 159.86,76.11C157.9,77.8 155.19,79.73 152.62,80.81C150.06,81.9 146.95,82.81 144.48,82.62C142.01,82.44 139.08,81.06 137.78,79.73C136.49,78.4 136.18,76.02 136.7,74.66C137.21,73.3 139.2,72.01 140.86,71.58C142.52,71.16 144.69,71.79 146.65,72.13C148.61,72.46 150.81,73.76 152.62,73.57C154.43,73.39 155.97,72.04 157.51,71.04C159.05,70.05 160.5,68.72 161.86,67.6C163.21,66.49 164.06,65.91 165.66,64.34C167.25,62.78 170,60.6 171.45,58.19C172.9,55.78 173.32,52.25 174.34,49.86C175.37,47.48 175.94,45.55 177.6,43.89C179.26,42.23 181.98,40.75 184.3,39.91Z" stroke="#8d2c8e" stroke-width="3.45" stroke-dasharray="0.9 1.1" stroke-linecap="butt" opacity="0.75"/>
<path d="M184.3,39.91C186.62,39.06 189.7,39.67 191.54,38.82C193.38,37.98 194.52,36.41 195.34,34.84C196.15,33.27 196.67,30.95 196.43,29.41C196.18,27.87 194.83,25.82 193.89,25.61C192.96,25.4 191.87,26.91 190.81,28.14C189.76,29.38 188.64,31.07 187.56,33.03C186.47,34.99 185.54,37.74 184.3,39.91C183.06,42.08 181.79,44.4 180.14,46.06C178.48,47.72 176.21,48.21 174.34,49.86C172.47,51.52 170.36,53.6 168.91,56.02C167.47,58.43 166.41,61.9 165.66,64.34C164.9,66.79 165.35,68.72 164.39,70.68C163.42,72.64 161.83,74.42 159.86,76.11C157.9,77.8 155.19,79.73 152.62,80.81C150.06,81.9 146.95,82.81 144.48,82.62C142.01,82.44 139.08,81.06 137.78,79.73C136.49,78.4 136.18,76.02 136.7,74.66C137.21,73.3 139.2,72.01 140.86,71.58C142.52,71.16 144.69,71.79 146.65,72.13C148.61,72.46 150.81,73.76 152.62,73.57C154.43,73.39 155.97,72.04 157.51,71.04C159.05,70.05 160.5,68.72 161.86,67.6C163.21,66.49 164.06,65.91 165.66,64.34C167.25,62.78 170,60.6 171.45,58.19C172.9,55.78 173.32,52.25 174.34,49.86C175.37,47.48 175.94,45.55 177.6,43.89C179.26,42.23 181.98,40.75 184.3,39.91Z" stroke="#d9a3a0" stroke-width="0.6" opacity="0.85" stroke-dasharray="1.2 0.7" stroke-linecap="butt"/>
</g>
<g fill="none" stroke-linecap="round" stroke-linejoin="round" filter="url(#rough)">
<path d="M145.38,69.59C146.29,69.14 148.85,67.42 150.81,66.88C152.78,66.33 155.19,66.12 157.15,66.33C159.11,66.55 161.25,67.24 162.58,68.14C163.91,69.05 164.93,70.5 165.11,71.76C165.29,73.03 164.69,74.66 163.67,75.75C162.64,76.83 159.74,77.86 158.96,78.28" stroke="#3f8cc4" stroke-width="2"/>
<path d="M145.38,69.59C146.29,69.14 148.85,67.42 150.81,66.88C152.78,66.33 155.19,66.12 157.15,66.33C159.11,66.55 161.25,67.24 162.58,68.14C163.91,69.05 164.93,70.5 165.11,71.76C165.29,73.03 164.69,74.66 163.67,75.75C162.64,76.83 159.74,77.86 158.96,78.28" stroke="#3f8cc4" stroke-width="2.7" stroke-dasharray="0.9 1.1" stroke-linecap="butt" opacity="0.75"/>
<path d="M145.38,69.59C146.29,69.14 148.85,67.42 150.81,66.88C152.78,66.33 155.19,66.12 157.15,66.33C159.11,66.55 161.25,67.24 162.58,68.14C163.91,69.05 164.93,70.5 165.11,71.76C165.29,73.03 164.69,74.66 163.67,75.75C162.64,76.83 159.74,77.86 158.96,78.28" stroke="#e3f1f9" stroke-width="1" opacity="0.85" stroke-dasharray="1.2 0.7" stroke-linecap="butt"/>
</g>
<g transform="translate(0 68.2)" fill="none" stroke-linecap="round" stroke-linejoin="round" filter="url(#rough)">
<path d="M143.03,73.76C143.03,72.4 144.09,70.74 145.38,69.59C146.68,68.45 148.85,67.42 150.81,66.88C152.78,66.33 155.19,66.12 157.15,66.33C159.11,66.55 161.25,67.24 162.58,68.14C163.91,69.05 164.93,70.5 165.11,71.76C165.29,73.03 164.69,74.66 163.67,75.75C162.64,76.83 160.95,77.71 158.96,78.28C156.97,78.85 153.98,79.28 151.72,79.19C149.46,79.1 146.83,78.64 145.38,77.74C143.94,76.83 143.03,75.11 143.03,73.76Z" stroke="#1f69a6" stroke-width="1.9"/>
<path d="M143.03,73.76C143.03,72.4 144.09,70.74 145.38,69.59C146.68,68.45 148.85,67.42 150.81,66.88C152.78,66.33 155.19,66.12 157.15,66.33C159.11,66.55 161.25,67.24 162.58,68.14C163.91,69.05 164.93,70.5 165.11,71.76C165.29,73.03 164.69,74.66 163.67,75.75C162.64,76.83 160.95,77.71 158.96,78.28C156.97,78.85 153.98,79.28 151.72,79.19C149.46,79.1 146.83,78.64 145.38,77.74C143.94,76.83 143.03,75.11 143.03,73.76Z" stroke="#1f69a6" stroke-width="2.6" stroke-dasharray="0.9 1.1" stroke-linecap="butt" opacity="0.75"/>
<path d="M143.03,73.76C143.03,72.4 144.09,70.74 145.38,69.59C146.68,68.45 148.85,67.42 150.81,66.88C152.78,66.33 155.19,66.12 157.15,66.33C159.11,66.55 161.25,67.24 162.58,68.14C163.91,69.05 164.93,70.5 165.11,71.76C165.29,73.03 164.69,74.66 163.67,75.75C162.64,76.83 160.95,77.71 158.96,78.28C156.97,78.85 153.98,79.28 151.72,79.19C149.46,79.1 146.83,78.64 145.38,77.74C143.94,76.83 143.03,75.11 143.03,73.76Z" stroke="#9ccbe6" stroke-width="0.5" opacity="0.85" stroke-dasharray="1.2 0.7" stroke-linecap="butt"/>
</g>
<g transform="translate(0 68.2)" fill="none" stroke-linecap="round" stroke-linejoin="round" filter="url(#rough)">
<path d="M184.3,39.91C186.62,39.06 189.7,39.67 191.54,38.82C193.38,37.98 194.52,36.41 195.34,34.84C196.15,33.27 196.67,30.95 196.43,29.41C196.18,27.87 194.83,25.82 193.89,25.61C192.96,25.4 191.87,26.91 190.81,28.14C189.76,29.38 188.64,31.07 187.56,33.03C186.47,34.99 185.54,37.74 184.3,39.91C183.06,42.08 181.79,44.4 180.14,46.06C178.48,47.72 176.21,48.21 174.34,49.86C172.47,51.52 170.36,53.6 168.91,56.02C167.47,58.43 166.41,61.9 165.66,64.34C164.9,66.79 165.35,68.72 164.39,70.68C163.42,72.64 161.83,74.42 159.86,76.11C157.9,77.8 155.19,79.73 152.62,80.81C150.06,81.9 146.95,82.81 144.48,82.62C142.01,82.44 139.08,81.06 137.78,79.73C136.49,78.4 136.18,76.02 136.7,74.66C137.21,73.3 139.2,72.01 140.86,71.58C142.52,71.16 144.69,71.79 146.65,72.13C148.61,72.46 150.81,73.76 152.62,73.57C154.43,73.39 155.97,72.04 157.51,71.04C159.05,70.05 160.5,68.72 161.86,67.6C163.21,66.49 164.06,65.91 165.66,64.34C167.25,62.78 170,60.6 171.45,58.19C172.9,55.78 173.32,52.25 174.34,49.86C175.37,47.48 175.94,45.55 177.6,43.89C179.26,42.23 181.98,40.75 184.3,39.91Z" stroke="#8d2c8e" stroke-width="2.75"/>
<path d="M184.3,39.91C186.62,39.06 189.7,39.67 191.54,38.82C193.38,37.98 194.52,36.41 195.34,34.84C196.15,33.27 196.67,30.95 196.43,29.41C196.18,27.87 194.83,25.82 193.89,25.61C192.96,25.4 191.87,26.91 190.81,28.14C189.76,29.38 188.64,31.07 187.56,33.03C186.47,34.99 185.54,37.74 184.3,39.91C183.06,42.08 181.79,44.4 180.14,46.06C178.48,47.72 176.21,48.21 174.34,49.86C172.47,51.52 170.36,53.6 168.91,56.02C167.47,58.43 166.41,61.9 165.66,64.34C164.9,66.79 165.35,68.72 164.39,70.68C163.42,72.64 161.83,74.42 159.86,76.11C157.9,77.8 155.19,79.73 152.62,80.81C150.06,81.9 146.95,82.81 144.48,82.62C142.01,82.44 139.08,81.06 137.78,79.73C136.49,78.4 136.18,76.02 136.7,74.66C137.21,73.3 139.2,72.01 140.86,71.58C142.52,71.16 144.69,71.79 146.65,72.13C148.61,72.46 150.81,73.76 152.62,73.57C154.43,73.39 155.97,72.04 157.51,71.04C159.05,70.05 160.5,68.72 161.86,67.6C163.21,66.49 164.06,65.91 165.66,64.34C167.25,62.78 170,60.6 171.45,58.19C172.9,55.78 173.32,52.25 174.34,49.86C175.37,47.48 175.94,45.55 177.6,43.89C179.26,42.23 181.98,40.75 184.3,39.91Z" stroke="#8d2c8e" stroke-width="3.45" stroke-dasharray="0.9 1.1" stroke-linecap="butt" opacity="0.75"/>
<path d="M184.3,39.91C186.62,39.06 189.7,39.67 191.54,38.82C193.38,37.98 194.52,36.41 195.34,34.84C196.15,33.27 196.67,30.95 196.43,29.41C196.18,27.87 194.83,25.82 193.89,25.61C192.96,25.4 191.87,26.91 190.81,28.14C189.76,29.38 188.64,31.07 187.56,33.03C186.47,34.99 185.54,37.74 184.3,39.91C183.06,42.08 181.79,44.4 180.14,46.06C178.48,47.72 176.21,48.21 174.34,49.86C172.47,51.52 170.36,53.6 168.91,56.02C167.47,58.43 166.41,61.9 165.66,64.34C164.9,66.79 165.35,68.72 164.39,70.68C163.42,72.64 161.83,74.42 159.86,76.11C157.9,77.8 155.19,79.73 152.62,80.81C150.06,81.9 146.95,82.81 144.48,82.62C142.01,82.44 139.08,81.06 137.78,79.73C136.49,78.4 136.18,76.02 136.7,74.66C137.21,73.3 139.2,72.01 140.86,71.58C142.52,71.16 144.69,71.79 146.65,72.13C148.61,72.46 150.81,73.76 152.62,73.57C154.43,73.39 155.97,72.04 157.51,71.04C159.05,70.05 160.5,68.72 161.86,67.6C163.21,66.49 164.06,65.91 165.66,64.34C167.25,62.78 170,60.6 171.45,58.19C172.9,55.78 173.32,52.25 174.34,49.86C175.37,47.48 175.94,45.55 177.6,43.89C179.26,42.23 181.98,40.75 184.3,39.91Z" stroke="#d9a3a0" stroke-width="0.6" opacity="0.85" stroke-dasharray="1.2 0.7" stroke-linecap="butt"/>
</g>
<g transform="translate(0 68.2)" fill="none" stroke-linecap="round" stroke-linejoin="round" filter="url(#rough)">
<path d="M145.38,69.59C146.29,69.14 148.85,67.42 150.81,66.88C152.78,66.33 155.19,66.12 157.15,66.33C159.11,66.55 161.25,67.24 162.58,68.14C163.91,69.05 164.93,70.5 165.11,71.76C165.29,73.03 164.69,74.66 163.67,75.75C162.64,76.83 159.74,77.86 158.96,78.28" stroke="#3f8cc4" stroke-width="2"/>
<path d="M145.38,69.59C146.29,69.14 148.85,67.42 150.81,66.88C152.78,66.33 155.19,66.12 157.15,66.33C159.11,66.55 161.25,67.24 162.58,68.14C163.91,69.05 164.93,70.5 165.11,71.76C165.29,73.03 164.69,74.66 163.67,75.75C162.64,76.83 159.74,77.86 158.96,78.28" stroke="#3f8cc4" stroke-width="2.7" stroke-dasharray="0.9 1.1" stroke-linecap="butt" opacity="0.75"/>
<path d="M145.38,69.59C146.29,69.14 148.85,67.42 150.81,66.88C152.78,66.33 155.19,66.12 157.15,66.33C159.11,66.55 161.25,67.24 162.58,68.14C163.91,69.05 164.93,70.5 165.11,71.76C165.29,73.03 164.69,74.66 163.67,75.75C162.64,76.83 159.74,77.86 158.96,78.28" stroke="#e3f1f9" stroke-width="1" opacity="0.85" stroke-dasharray="1.2 0.7" stroke-linecap="butt"/>
</g>
<g fill="none" stroke-linecap="round" stroke-linejoin="round" filter="url(#rough)">
<path d="M170.18,185.41C169.28,186.19 168.25,188.3 167.29,190.11C166.32,191.92 165.41,194.34 164.39,196.27C163.36,198.2 161.98,200.43 161.13,201.7C160.29,202.96 159.14,203.45 159.32,203.87C159.5,204.29 161.07,204.65 162.22,204.23C163.36,203.81 164.93,202.54 166.2,201.33C167.47,200.13 168.67,198.5 169.82,196.99C170.97,195.48 172.35,193.73 173.08,192.29C173.8,190.84 174.22,189.45 174.16,188.3C174.1,187.16 173.38,185.89 172.71,185.41C172.05,184.92 171.09,184.62 170.18,185.41Z" stroke="#1f69a6" stroke-width="3.2"/>
<path d="M170.18,185.41C169.28,186.19 168.25,188.3 167.29,190.11C166.32,191.92 165.41,194.34 164.39,196.27C163.36,198.2 161.98,200.43 161.13,201.7C160.29,202.96 159.14,203.45 159.32,203.87C159.5,204.29 161.07,204.65 162.22,204.23C163.36,203.81 164.93,202.54 166.2,201.33C167.47,200.13 168.67,198.5 169.82,196.99C170.97,195.48 172.35,193.73 173.08,192.29C173.8,190.84 174.22,189.45 174.16,188.3C174.1,187.16 173.38,185.89 172.71,185.41C172.05,184.92 171.09,184.62 170.18,185.41Z" stroke="#1f69a6" stroke-width="3.9" stroke-dasharray="0.9 1.1" stroke-linecap="butt" opacity="0.75"/>
<path d="M170.18,185.41C169.28,186.19 168.25,188.3 167.29,190.11C166.32,191.92 165.41,194.34 164.39,196.27C163.36,198.2 161.98,200.43 161.13,201.7C160.29,202.96 159.14,203.45 159.32,203.87C159.5,204.29 161.07,204.65 162.22,204.23C163.36,203.81 164.93,202.54 166.2,201.33C167.47,200.13 168.67,198.5 169.82,196.99C170.97,195.48 172.35,193.73 173.08,192.29C173.8,190.84 174.22,189.45 174.16,188.3C174.1,187.16 173.38,185.89 172.71,185.41C172.05,184.92 171.09,184.62 170.18,185.41Z" stroke="#9ccbe6" stroke-width="0.5" opacity="0.85" stroke-dasharray="1.2 0.7" stroke-linecap="butt"/>
</g>
<g fill="none" stroke-linecap="round" stroke-linejoin="round" filter="url(#rough)">
<path d="M170.18,185.41C168.73,183.36 166.02,179.62 164.75,176.72C163.48,173.82 162.19,170.44 162.58,168.03C162.97,165.62 164.93,163.51 167.1,162.24C169.28,160.97 172.75,160.13 175.61,160.43C178.48,160.73 181.95,162.09 184.3,164.05C186.65,166.01 188.73,169.18 189.73,172.19C190.72,175.21 190.87,178.98 190.27,182.15C189.67,185.32 188.01,188.63 186.11,191.2C184.21,193.76 181.43,196.33 178.87,197.53C176.3,198.74 173.74,198.29 170.72,198.44C167.71,198.59 163.94,198.8 160.77,198.44C157.6,198.08 154.74,196.42 151.72,196.27C148.7,196.12 145.08,196.42 142.67,197.53C140.26,198.65 137.99,200.7 137.24,202.96C136.49,205.23 136.94,209 138.14,211.11C139.35,213.22 141.61,215.18 144.48,215.63C147.35,216.09 152.02,214.88 155.34,213.82C158.66,212.77 162.04,211.11 164.39,209.3C166.74,207.49 168.19,205.32 169.46,202.96C170.72,200.61 171.33,197.5 171.99,195.18C172.65,192.86 173.74,190.66 173.44,189.03C173.14,187.4 171.63,187.46 170.18,185.41Z" stroke="#8d2c8e" stroke-width="3.2"/>
<path d="M170.18,185.41C168.73,183.36 166.02,179.62 164.75,176.72C163.48,173.82 162.19,170.44 162.58,168.03C162.97,165.62 164.93,163.51 167.1,162.24C169.28,160.97 172.75,160.13 175.61,160.43C178.48,160.73 181.95,162.09 184.3,164.05C186.65,166.01 188.73,169.18 189.73,172.19C190.72,175.21 190.87,178.98 190.27,182.15C189.67,185.32 188.01,188.63 186.11,191.2C184.21,193.76 181.43,196.33 178.87,197.53C176.3,198.74 173.74,198.29 170.72,198.44C167.71,198.59 163.94,198.8 160.77,198.44C157.6,198.08 154.74,196.42 151.72,196.27C148.7,196.12 145.08,196.42 142.67,197.53C140.26,198.65 137.99,200.7 137.24,202.96C136.49,205.23 136.94,209 138.14,211.11C139.35,213.22 141.61,215.18 144.48,215.63C147.35,216.09 152.02,214.88 155.34,213.82C158.66,212.77 162.04,211.11 164.39,209.3C166.74,207.49 168.19,205.32 169.46,202.96C170.72,200.61 171.33,197.5 171.99,195.18C172.65,192.86 173.74,190.66 173.44,189.03C173.14,187.4 171.63,187.46 170.18,185.41Z" stroke="#8d2c8e" stroke-width="3.9" stroke-dasharray="0.9 1.1" stroke-linecap="butt" opacity="0.75"/>
<path d="M170.18,185.41C168.73,183.36 166.02,179.62 164.75,176.72C163.48,173.82 162.19,170.44 162.58,168.03C162.97,165.62 164.93,163.51 167.1,162.24C169.28,160.97 172.75,160.13 175.61,160.43C178.48,160.73 181.95,162.09 184.3,164.05C186.65,166.01 188.73,169.18 189.73,172.19C190.72,175.21 190.87,178.98 190.27,182.15C189.67,185.32 188.01,188.63 186.11,191.2C184.21,193.76 181.43,196.33 178.87,197.53C176.3,198.74 173.74,198.29 170.72,198.44C167.71,198.59 163.94,198.8 160.77,198.44C157.6,198.08 154.74,196.42 151.72,196.27C148.7,196.12 145.08,196.42 142.67,197.53C140.26,198.65 137.99,200.7 137.24,202.96C136.49,205.23 136.94,209 138.14,211.11C139.35,213.22 141.61,215.18 144.48,215.63C147.35,216.09 152.02,214.88 155.34,213.82C158.66,212.77 162.04,211.11 164.39,209.3C166.74,207.49 168.19,205.32 169.46,202.96C170.72,200.61 171.33,197.5 171.99,195.18C172.65,192.86 173.74,190.66 173.44,189.03C173.14,187.4 171.63,187.46 170.18,185.41Z" stroke="#d9a3a0" stroke-width="0.6" opacity="0.85" stroke-dasharray="1.2 0.7" stroke-linecap="butt"/>
</g>
<g fill="none" stroke-linecap="round" stroke-linejoin="round" filter="url(#rough)">
<path d="M170.18,185.41C169.7,186.19 168.25,188.3 167.29,190.11C166.32,191.92 165.41,194.34 164.39,196.27C163.36,198.2 161.98,200.43 161.13,201.7C160.29,202.96 159.14,203.45 159.32,203.87C159.5,204.29 161.13,204.59 162.22,204.23C163.3,203.87 165.23,202.12 165.84,201.7" stroke="#1f69a6" stroke-width="3.4"/>
<path d="M170.18,185.41C169.7,186.19 168.25,188.3 167.29,190.11C166.32,191.92 165.41,194.34 164.39,196.27C163.36,198.2 161.98,200.43 161.13,201.7C160.29,202.96 159.14,203.45 159.32,203.87C159.5,204.29 161.13,204.59 162.22,204.23C163.3,203.87 165.23,202.12 165.84,201.7" stroke="#1f69a6" stroke-width="4.1" stroke-dasharray="0.9 1.1" stroke-linecap="butt" opacity="0.75"/>
<path d="M170.18,185.41C169.7,186.19 168.25,188.3 167.29,190.11C166.32,191.92 165.41,194.34 164.39,196.27C163.36,198.2 161.98,200.43 161.13,201.7C160.29,202.96 159.14,203.45 159.32,203.87C159.5,204.29 161.13,204.59 162.22,204.23C163.3,203.87 165.23,202.12 165.84,201.7" stroke="#9ccbe6" stroke-width="0.5" opacity="0.85" stroke-dasharray="1.2 0.7" stroke-linecap="butt"/>
</g>
<circle cx="169.6" cy="184.9" r="2.3" fill="#5cc535"/>
<circle cx="169.2" cy="184.5" r="1.03" fill="#9be36f"/>
<circle cx="137.3" cy="203.9" r="2.3" fill="#5cc535"/>
<circle cx="136.9" cy="203.5" r="1.03" fill="#9be36f"/>
<g fill="none" stroke-linecap="round" stroke-linejoin="round" filter="url(#rough)">
<path d="M219.19,62.4C219.67,61.8 220.59,60.99 221.63,60.5C222.66,60.02 223.8,59.52 225.4,59.5C226.99,59.47 229.11,59.51 231.18,60.33C233.25,61.16 236.01,62.87 237.8,64.46C239.59,66.04 241.17,68.11 241.92,69.84C242.68,71.56 242.75,73.63 242.34,74.8C241.93,75.97 240.75,76.86 239.44,76.86C238.13,76.86 236.13,75.56 234.48,74.8C232.83,74.04 231.19,73.08 229.53,72.32C227.88,71.56 226.09,71.07 224.57,70.24C223.06,69.41 221.4,68.39 220.43,67.36C219.47,66.33 219,64.88 218.79,64.05C218.58,63.23 218.72,62.99 219.19,62.4Z" stroke="#1f69a6" stroke-width="2.3"/>
<path d="M219.19,62.4C219.67,61.8 220.59,60.99 221.63,60.5C222.66,60.02 223.8,59.52 225.4,59.5C226.99,59.47 229.11,59.51 231.18,60.33C233.25,61.16 236.01,62.87 237.8,64.46C239.59,66.04 241.17,68.11 241.92,69.84C242.68,71.56 242.75,73.63 242.34,74.8C241.93,75.97 240.75,76.86 239.44,76.86C238.13,76.86 236.13,75.56 234.48,74.8C232.83,74.04 231.19,73.08 229.53,72.32C227.88,71.56 226.09,71.07 224.57,70.24C223.06,69.41 221.4,68.39 220.43,67.36C219.47,66.33 219,64.88 218.79,64.05C218.58,63.23 218.72,62.99 219.19,62.4Z" stroke="#1f69a6" stroke-width="3" stroke-dasharray="0.9 1.1" stroke-linecap="butt" opacity="0.75"/>
<path d="M219.19,62.4C219.67,61.8 220.59,60.99 221.63,60.5C222.66,60.02 223.8,59.52 225.4,59.5C226.99,59.47 229.11,59.51 231.18,60.33C233.25,61.16 236.01,62.87 237.8,64.46C239.59,66.04 241.17,68.11 241.92,69.84C242.68,71.56 242.75,73.63 242.34,74.8C241.93,75.97 240.75,76.86 239.44,76.86C238.13,76.86 236.13,75.56 234.48,74.8C232.83,74.04 231.19,73.08 229.53,72.32C227.88,71.56 226.09,71.07 224.57,70.24C223.06,69.41 221.4,68.39 220.43,67.36C219.47,66.33 219,64.88 218.79,64.05C218.58,63.23 218.72,62.99 219.19,62.4Z" stroke="#9ccbe6" stroke-width="0.5" opacity="0.85" stroke-dasharray="1.2 0.7" stroke-linecap="butt"/>
</g>
<g fill="none" stroke-linecap="round" stroke-linejoin="round" filter="url(#rough)">
<path d="M263.49,42.36C265.25,41.33 268.06,37.51 270.47,36.16C272.87,34.82 275.89,33.84 277.91,34.3C279.92,34.77 282.12,37.02 282.56,38.95C283,40.89 282.04,44.38 280.54,45.93C279.04,47.48 275.89,48.39 273.57,48.26C271.24,48.13 268.45,46.11 266.59,45.16C264.73,44.2 264.08,43.06 262.4,42.52C260.72,41.98 258.4,42.13 256.51,41.9C254.63,41.67 252.95,41.49 251.09,41.12C249.22,40.76 247.16,39.86 245.35,39.73C243.54,39.6 241.86,39.96 240.23,40.35C238.6,40.74 237.39,41.38 235.58,42.05C233.77,42.73 231.27,43.29 229.38,44.38C227.49,45.47 225.43,46.63 224.26,48.57C223.1,50.5 222.82,53.29 222.4,56.01C221.99,58.72 221.89,62.26 221.78,64.84C221.68,67.43 221.46,69.44 221.78,71.51C222.11,73.58 222.79,75.94 223.74,77.25C224.68,78.55 226.08,79.2 227.46,79.34C228.83,79.48 230.76,78.86 232,78.1C233.24,77.34 234.42,76.15 234.9,74.77C235.38,73.39 235.11,71.59 234.9,69.81C234.69,68.02 233.98,65.99 233.66,64.07C233.33,62.15 232.88,60.06 232.95,58.27C233.02,56.48 233.66,54.93 234.08,53.31C234.49,51.69 234.79,49.87 235.43,48.57C236.06,47.26 236.85,45.72 237.91,45.47C238.97,45.21 240.23,46.58 241.78,47.02C243.33,47.45 245.48,48.31 247.21,48.1C248.94,47.89 250.67,46.63 252.17,45.78C253.67,44.92 254.91,43.55 256.2,42.98C257.49,42.42 258.71,42.47 259.92,42.36C261.14,42.26 261.73,43.4 263.49,42.36Z" stroke="#8d2c8e" stroke-width="2.4"/>
<path d="M263.49,42.36C265.25,41.33 268.06,37.51 270.47,36.16C272.87,34.82 275.89,33.84 277.91,34.3C279.92,34.77 282.12,37.02 282.56,38.95C283,40.89 282.04,44.38 280.54,45.93C279.04,47.48 275.89,48.39 273.57,48.26C271.24,48.13 268.45,46.11 266.59,45.16C264.73,44.2 264.08,43.06 262.4,42.52C260.72,41.98 258.4,42.13 256.51,41.9C254.63,41.67 252.95,41.49 251.09,41.12C249.22,40.76 247.16,39.86 245.35,39.73C243.54,39.6 241.86,39.96 240.23,40.35C238.6,40.74 237.39,41.38 235.58,42.05C233.77,42.73 231.27,43.29 229.38,44.38C227.49,45.47 225.43,46.63 224.26,48.57C223.1,50.5 222.82,53.29 222.4,56.01C221.99,58.72 221.89,62.26 221.78,64.84C221.68,67.43 221.46,69.44 221.78,71.51C222.11,73.58 222.79,75.94 223.74,77.25C224.68,78.55 226.08,79.2 227.46,79.34C228.83,79.48 230.76,78.86 232,78.1C233.24,77.34 234.42,76.15 234.9,74.77C235.38,73.39 235.11,71.59 234.9,69.81C234.69,68.02 233.98,65.99 233.66,64.07C233.33,62.15 232.88,60.06 232.95,58.27C233.02,56.48 233.66,54.93 234.08,53.31C234.49,51.69 234.79,49.87 235.43,48.57C236.06,47.26 236.85,45.72 237.91,45.47C238.97,45.21 240.23,46.58 241.78,47.02C243.33,47.45 245.48,48.31 247.21,48.1C248.94,47.89 250.67,46.63 252.17,45.78C253.67,44.92 254.91,43.55 256.2,42.98C257.49,42.42 258.71,42.47 259.92,42.36C261.14,42.26 261.73,43.4 263.49,42.36Z" stroke="#8d2c8e" stroke-width="3.1" stroke-dasharray="0.9 1.1" stroke-linecap="butt" opacity="0.75"/>
<path d="M263.49,42.36C265.25,41.33 268.06,37.51 270.47,36.16C272.87,34.82 275.89,33.84 277.91,34.3C279.92,34.77 282.12,37.02 282.56,38.95C283,40.89 282.04,44.38 280.54,45.93C279.04,47.48 275.89,48.39 273.57,48.26C271.24,48.13 268.45,46.11 266.59,45.16C264.73,44.2 264.08,43.06 262.4,42.52C260.72,41.98 258.4,42.13 256.51,41.9C254.63,41.67 252.95,41.49 251.09,41.12C249.22,40.76 247.16,39.86 245.35,39.73C243.54,39.6 241.86,39.96 240.23,40.35C238.6,40.74 237.39,41.38 235.58,42.05C233.77,42.73 231.27,43.29 229.38,44.38C227.49,45.47 225.43,46.63 224.26,48.57C223.1,50.5 222.82,53.29 222.4,56.01C221.99,58.72 221.89,62.26 221.78,64.84C221.68,67.43 221.46,69.44 221.78,71.51C222.11,73.58 222.79,75.94 223.74,77.25C224.68,78.55 226.08,79.2 227.46,79.34C228.83,79.48 230.76,78.86 232,78.1C233.24,77.34 234.42,76.15 234.9,74.77C235.38,73.39 235.11,71.59 234.9,69.81C234.69,68.02 233.98,65.99 233.66,64.07C233.33,62.15 232.88,60.06 232.95,58.27C233.02,56.48 233.66,54.93 234.08,53.31C234.49,51.69 234.79,49.87 235.43,48.57C236.06,47.26 236.85,45.72 237.91,45.47C238.97,45.21 240.23,46.58 241.78,47.02C243.33,47.45 245.48,48.31 247.21,48.1C248.94,47.89 250.67,46.63 252.17,45.78C253.67,44.92 254.91,43.55 256.2,42.98C257.49,42.42 258.71,42.47 259.92,42.36C261.14,42.26 261.73,43.4 263.49,42.36Z" stroke="#d9a3a0" stroke-width="0.6" opacity="0.85" stroke-dasharray="1.2 0.7" stroke-linecap="butt"/>
</g>
<g fill="none" stroke-linecap="round" stroke-linejoin="round" filter="url(#rough)">
<path d="M221.63,60.5C222.26,60.34 223.8,59.52 225.4,59.5C226.99,59.47 229.11,59.51 231.18,60.33C233.25,61.16 236.7,63.77 237.8,64.46" stroke="#1f69a6" stroke-width="2.3"/>
<path d="M221.63,60.5C222.26,60.34 223.8,59.52 225.4,59.5C226.99,59.47 229.11,59.51 231.18,60.33C233.25,61.16 236.7,63.77 237.8,64.46" stroke="#1f69a6" stroke-width="3" stroke-dasharray="0.9 1.1" stroke-linecap="butt" opacity="0.75"/>
<path d="M221.63,60.5C222.26,60.34 223.8,59.52 225.4,59.5C226.99,59.47 229.11,59.51 231.18,60.33C233.25,61.16 236.7,63.77 237.8,64.46" stroke="#9ccbe6" stroke-width="0.5" opacity="0.85" stroke-dasharray="1.2 0.7" stroke-linecap="butt"/>
</g>
<g fill="none" stroke-linecap="round" stroke-linejoin="round" filter="url(#rough)">
<path d="M234.48,74.8C233.66,74.39 231.19,73.08 229.53,72.32C227.88,71.56 226.09,71.07 224.57,70.24C223.06,69.41 221.12,67.84 220.43,67.36" stroke="#1f69a6" stroke-width="2.3"/>
<path d="M234.48,74.8C233.66,74.39 231.19,73.08 229.53,72.32C227.88,71.56 226.09,71.07 224.57,70.24C223.06,69.41 221.12,67.84 220.43,67.36" stroke="#1f69a6" stroke-width="3" stroke-dasharray="0.9 1.1" stroke-linecap="butt" opacity="0.75"/>
<path d="M234.48,74.8C233.66,74.39 231.19,73.08 229.53,72.32C227.88,71.56 226.09,71.07 224.57,70.24C223.06,69.41 221.12,67.84 220.43,67.36" stroke="#9ccbe6" stroke-width="0.5" opacity="0.85" stroke-dasharray="1.2 0.7" stroke-linecap="butt"/>
</g>
<g fill="none" stroke-linecap="round" stroke-linejoin="round" filter="url(#rough)">
<path d="M255.25,108.1C256.21,106.77 259.02,105.69 260.68,105.57C262.34,105.44 263.85,106.2 265.2,107.38C266.56,108.55 267.92,110.54 268.82,112.62C269.73,114.71 270.78,117.45 270.63,119.86C270.48,122.28 269.13,126.2 267.92,127.1C266.71,128.01 265.05,126.5 263.39,125.29C261.73,124.09 259.38,121.83 257.96,119.86C256.55,117.9 255.34,115.49 254.89,113.53C254.43,111.57 254.28,109.43 255.25,108.1Z" stroke="#1f69a6" stroke-width="2"/>
<path d="M255.25,108.1C256.21,106.77 259.02,105.69 260.68,105.57C262.34,105.44 263.85,106.2 265.2,107.38C266.56,108.55 267.92,110.54 268.82,112.62C269.73,114.71 270.78,117.45 270.63,119.86C270.48,122.28 269.13,126.2 267.92,127.1C266.71,128.01 265.05,126.5 263.39,125.29C261.73,124.09 259.38,121.83 257.96,119.86C256.55,117.9 255.34,115.49 254.89,113.53C254.43,111.57 254.28,109.43 255.25,108.1Z" stroke="#1f69a6" stroke-width="2.7" stroke-dasharray="0.9 1.1" stroke-linecap="butt" opacity="0.75"/>
<path d="M255.25,108.1C256.21,106.77 259.02,105.69 260.68,105.57C262.34,105.44 263.85,106.2 265.2,107.38C266.56,108.55 267.92,110.54 268.82,112.62C269.73,114.71 270.78,117.45 270.63,119.86C270.48,122.28 269.13,126.2 267.92,127.1C266.71,128.01 265.05,126.5 263.39,125.29C261.73,124.09 259.38,121.83 257.96,119.86C256.55,117.9 255.34,115.49 254.89,113.53C254.43,111.57 254.28,109.43 255.25,108.1Z" stroke="#9ccbe6" stroke-width="0.5" opacity="0.85" stroke-dasharray="1.2 0.7" stroke-linecap="butt"/>
</g>
<g fill="none" stroke-linecap="round" stroke-linejoin="round" filter="url(#rough)">
<path d="M253.44,112.44C251.18,112.23 247.71,110.33 244.39,109.91C241.07,109.49 236.91,109.4 233.53,109.91C230.15,110.42 226.59,111.33 224.12,112.99C221.64,114.65 219.89,117.21 218.69,119.86C217.48,122.52 216.61,125.96 216.88,128.91C217.15,131.87 218.45,135.25 220.32,137.6C222.19,139.95 225.29,141.83 228.1,143.03C230.9,144.24 234.13,145.11 237.15,144.84C240.17,144.57 243.63,143.15 246.2,141.4C248.76,139.65 250.87,137.03 252.53,134.34C254.19,131.66 254.95,127.71 256.15,125.29C257.36,122.88 257.81,121.22 259.77,119.86C261.73,118.51 265.05,117.9 267.92,117.15C270.78,116.4 274.16,116.12 276.97,115.34C279.77,114.56 283.15,113.77 284.75,112.44C286.35,111.12 286.95,108.79 286.56,107.38C286.17,105.96 284.6,104.42 282.4,103.94C280.2,103.45 276.37,103.91 273.35,104.48C270.33,105.05 266.86,106.26 264.3,107.38C261.73,108.49 259.77,110.33 257.96,111.18C256.15,112.02 255.7,112.65 253.44,112.44Z" stroke="#8d2c8e" stroke-width="2.3"/>
<path d="M253.44,112.44C251.18,112.23 247.71,110.33 244.39,109.91C241.07,109.49 236.91,109.4 233.53,109.91C230.15,110.42 226.59,111.33 224.12,112.99C221.64,114.65 219.89,117.21 218.69,119.86C217.48,122.52 216.61,125.96 216.88,128.91C217.15,131.87 218.45,135.25 220.32,137.6C222.19,139.95 225.29,141.83 228.1,143.03C230.9,144.24 234.13,145.11 237.15,144.84C240.17,144.57 243.63,143.15 246.2,141.4C248.76,139.65 250.87,137.03 252.53,134.34C254.19,131.66 254.95,127.71 256.15,125.29C257.36,122.88 257.81,121.22 259.77,119.86C261.73,118.51 265.05,117.9 267.92,117.15C270.78,116.4 274.16,116.12 276.97,115.34C279.77,114.56 283.15,113.77 284.75,112.44C286.35,111.12 286.95,108.79 286.56,107.38C286.17,105.96 284.6,104.42 282.4,103.94C280.2,103.45 276.37,103.91 273.35,104.48C270.33,105.05 266.86,106.26 264.3,107.38C261.73,108.49 259.77,110.33 257.96,111.18C256.15,112.02 255.7,112.65 253.44,112.44Z" stroke="#8d2c8e" stroke-width="3" stroke-dasharray="0.9 1.1" stroke-linecap="butt" opacity="0.75"/>
<path d="M253.44,112.44C251.18,112.23 247.71,110.33 244.39,109.91C241.07,109.49 236.91,109.4 233.53,109.91C230.15,110.42 226.59,111.33 224.12,112.99C221.64,114.65 219.89,117.21 218.69,119.86C217.48,122.52 216.61,125.96 216.88,128.91C217.15,131.87 218.45,135.25 220.32,137.6C222.19,139.95 225.29,141.83 228.1,143.03C230.9,144.24 234.13,145.11 237.15,144.84C240.17,144.57 243.63,143.15 246.2,141.4C248.76,139.65 250.87,137.03 252.53,134.34C254.19,131.66 254.95,127.71 256.15,125.29C257.36,122.88 257.81,121.22 259.77,119.86C261.73,118.51 265.05,117.9 267.92,117.15C270.78,116.4 274.16,116.12 276.97,115.34C279.77,114.56 283.15,113.77 284.75,112.44C286.35,111.12 286.95,108.79 286.56,107.38C286.17,105.96 284.6,104.42 282.4,103.94C280.2,103.45 276.37,103.91 273.35,104.48C270.33,105.05 266.86,106.26 264.3,107.38C261.73,108.49 259.77,110.33 257.96,111.18C256.15,112.02 255.7,112.65 253.44,112.44Z" stroke="#d9a3a0" stroke-width="0.6" opacity="0.85" stroke-dasharray="1.2 0.7" stroke-linecap="butt"/>
</g>
<g fill="none" stroke-linecap="round" stroke-linejoin="round" filter="url(#rough)">
<path d="M255.25,108.1C255.19,109 254.43,111.57 254.89,113.53C255.34,115.49 256.55,117.9 257.96,119.86C259.38,121.83 262.49,124.39 263.39,125.29" stroke="#1f69a6" stroke-width="2"/>
<path d="M255.25,108.1C255.19,109 254.43,111.57 254.89,113.53C255.34,115.49 256.55,117.9 257.96,119.86C259.38,121.83 262.49,124.39 263.39,125.29" stroke="#1f69a6" stroke-width="2.7" stroke-dasharray="0.9 1.1" stroke-linecap="butt" opacity="0.75"/>
<path d="M255.25,108.1C255.19,109 254.43,111.57 254.89,113.53C255.34,115.49 256.55,117.9 257.96,119.86C259.38,121.83 262.49,124.39 263.39,125.29" stroke="#9ccbe6" stroke-width="0.5" opacity="0.85" stroke-dasharray="1.2 0.7" stroke-linecap="butt"/>
</g>
<g fill="none" stroke-linecap="round" stroke-linejoin="round" filter="url(#rough)">
<path d="M246.56,197.71C247.47,195 248.37,191.08 248.91,187.58C249.46,184.08 249.31,179.86 249.82,176.72C250.33,173.58 250.48,170.38 251.99,168.76C253.5,167.13 256.21,166.83 258.87,166.95C261.52,167.07 265.35,168.91 267.92,169.48C270.48,170.05 272.44,171.08 274.25,170.38C276.06,169.69 277.12,166.31 278.78,165.32C280.44,164.32 282.88,163.42 284.21,164.41C285.54,165.41 286.74,168.94 286.74,171.29C286.74,173.64 285.69,176.12 284.21,178.53C282.73,180.94 279.53,183.21 277.87,185.77C276.21,188.33 275.91,191.5 274.25,193.91C272.59,196.33 270.18,198.95 267.92,200.25C265.66,201.55 263.09,201.7 260.68,201.7C258.27,201.7 255.7,200.85 253.44,200.25C251.18,199.65 248.97,198.92 247.1,198.08C245.23,197.23 243.88,196.33 242.22,195.18C240.56,194.03 239.5,192.01 237.15,191.2C234.8,190.38 231.06,190.29 228.1,190.29C225.14,190.29 221.16,189.84 219.41,191.2C217.66,192.56 217.48,196.03 217.6,198.44C217.72,200.85 218.39,204.17 220.14,205.68C221.89,207.19 225.26,207.46 228.1,207.49C230.94,207.52 234.59,206.46 237.15,205.86C239.71,205.26 241.92,205.23 243.48,203.87C245.05,202.51 245.66,200.43 246.56,197.71Z" stroke="#93378c" stroke-width="2.6"/>
<path d="M246.56,197.71C247.47,195 248.37,191.08 248.91,187.58C249.46,184.08 249.31,179.86 249.82,176.72C250.33,173.58 250.48,170.38 251.99,168.76C253.5,167.13 256.21,166.83 258.87,166.95C261.52,167.07 265.35,168.91 267.92,169.48C270.48,170.05 272.44,171.08 274.25,170.38C276.06,169.69 277.12,166.31 278.78,165.32C280.44,164.32 282.88,163.42 284.21,164.41C285.54,165.41 286.74,168.94 286.74,171.29C286.74,173.64 285.69,176.12 284.21,178.53C282.73,180.94 279.53,183.21 277.87,185.77C276.21,188.33 275.91,191.5 274.25,193.91C272.59,196.33 270.18,198.95 267.92,200.25C265.66,201.55 263.09,201.7 260.68,201.7C258.27,201.7 255.7,200.85 253.44,200.25C251.18,199.65 248.97,198.92 247.1,198.08C245.23,197.23 243.88,196.33 242.22,195.18C240.56,194.03 239.5,192.01 237.15,191.2C234.8,190.38 231.06,190.29 228.1,190.29C225.14,190.29 221.16,189.84 219.41,191.2C217.66,192.56 217.48,196.03 217.6,198.44C217.72,200.85 218.39,204.17 220.14,205.68C221.89,207.19 225.26,207.46 228.1,207.49C230.94,207.52 234.59,206.46 237.15,205.86C239.71,205.26 241.92,205.23 243.48,203.87C245.05,202.51 245.66,200.43 246.56,197.71Z" stroke="#93378c" stroke-width="3.3" stroke-dasharray="0.9 1.1" stroke-linecap="butt" opacity="0.75"/>
<path d="M246.56,197.71C247.47,195 248.37,191.08 248.91,187.58C249.46,184.08 249.31,179.86 249.82,176.72C250.33,173.58 250.48,170.38 251.99,168.76C253.5,167.13 256.21,166.83 258.87,166.95C261.52,167.07 265.35,168.91 267.92,169.48C270.48,170.05 272.44,171.08 274.25,170.38C276.06,169.69 277.12,166.31 278.78,165.32C280.44,164.32 282.88,163.42 284.21,164.41C285.54,165.41 286.74,168.94 286.74,171.29C286.74,173.64 285.69,176.12 284.21,178.53C282.73,180.94 279.53,183.21 277.87,185.77C276.21,188.33 275.91,191.5 274.25,193.91C272.59,196.33 270.18,198.95 267.92,200.25C265.66,201.55 263.09,201.7 260.68,201.7C258.27,201.7 255.7,200.85 253.44,200.25C251.18,199.65 248.97,198.92 247.1,198.08C245.23,197.23 243.88,196.33 242.22,195.18C240.56,194.03 239.5,192.01 237.15,191.2C234.8,190.38 231.06,190.29 228.1,190.29C225.14,190.29 221.16,189.84 219.41,191.2C217.66,192.56 217.48,196.03 217.6,198.44C217.72,200.85 218.39,204.17 220.14,205.68C221.89,207.19 225.26,207.46 228.1,207.49C230.94,207.52 234.59,206.46 237.15,205.86C239.71,205.26 241.92,205.23 243.48,203.87C245.05,202.51 245.66,200.43 246.56,197.71Z" stroke="#ecbfcd" stroke-width="1.5" opacity="0.85" stroke-dasharray="1.2 0.7" stroke-linecap="butt"/>
</g>
<g fill="none" stroke-linecap="round" stroke-linejoin="round" filter="url(#rough)">
<path d="M243.67,198.8C244.42,197.17 246.68,196.51 248.91,195.9C251.15,195.3 254.98,194.58 257.06,195.18C259.14,195.78 260.65,197.32 261.4,199.52C262.16,201.73 262.13,205.74 261.58,208.39C261.04,211.05 259.62,213.79 258.14,215.45C256.67,217.11 254.52,218.77 252.71,218.35C250.9,217.93 248.67,215.03 247.29,212.92C245.9,210.81 244.99,208.03 244.39,205.68C243.79,203.33 242.91,200.43 243.67,198.8Z" stroke="#1f69a6" stroke-width="2.2"/>
<path d="M243.67,198.8C244.42,197.17 246.68,196.51 248.91,195.9C251.15,195.3 254.98,194.58 257.06,195.18C259.14,195.78 260.65,197.32 261.4,199.52C262.16,201.73 262.13,205.74 261.58,208.39C261.04,211.05 259.62,213.79 258.14,215.45C256.67,217.11 254.52,218.77 252.71,218.35C250.9,217.93 248.67,215.03 247.29,212.92C245.9,210.81 244.99,208.03 244.39,205.68C243.79,203.33 242.91,200.43 243.67,198.8Z" stroke="#1f69a6" stroke-width="2.9" stroke-dasharray="0.9 1.1" stroke-linecap="butt" opacity="0.75"/>
<path d="M243.67,198.8C244.42,197.17 246.68,196.51 248.91,195.9C251.15,195.3 254.98,194.58 257.06,195.18C259.14,195.78 260.65,197.32 261.4,199.52C262.16,201.73 262.13,205.74 261.58,208.39C261.04,211.05 259.62,213.79 258.14,215.45C256.67,217.11 254.52,218.77 252.71,218.35C250.9,217.93 248.67,215.03 247.29,212.92C245.9,210.81 244.99,208.03 244.39,205.68C243.79,203.33 242.91,200.43 243.67,198.8Z" stroke="#9ccbe6" stroke-width="0.5" opacity="0.85" stroke-dasharray="1.2 0.7" stroke-linecap="butt"/>
</g>
<circle cx="219.1" cy="191.2" r="2.2" fill="#5cc535"/>
<circle cx="218.7" cy="190.8" r="0.99" fill="#9be36f"/>
<circle cx="250.7" cy="196.3" r="2" fill="#5cc535"/>
<circle cx="250.3" cy="195.9" r="0.9" fill="#9be36f"/>
<path d="M350.04,44.26C352.62,43.39 354.56,40.49 357.02,39.3C359.47,38.11 362.57,36.87 364.77,37.13C366.96,37.39 369.47,39.2 370.19,40.85C370.92,42.51 370.27,45.4 369.11,47.05C367.95,48.71 365.36,50.52 363.22,50.78C361.07,51.03 358.44,49.69 356.24,48.6C354.04,47.52 352.49,45.09 350.04,44.26C347.58,43.44 343.76,44.01 341.51,43.64C339.26,43.28 338.62,42.43 336.55,42.09C334.48,41.76 331.12,41.16 329.11,41.63C327.09,42.09 326.27,44.24 324.46,44.88C322.65,45.53 320.17,44.99 318.26,45.5C316.34,46.02 314.02,46.69 312.98,47.98C311.95,49.28 312.16,51.47 312.05,53.26C311.95,55.04 312.49,57 312.36,58.68C312.24,60.36 311.59,61.65 311.28,63.33C310.97,65.01 310.37,66.95 310.5,68.76C310.63,70.57 311.23,72.76 312.05,74.19C312.88,75.61 313.91,77.03 315.47,77.29C317.02,77.55 319.86,76.9 321.36,75.74C322.86,74.57 324.15,72.76 324.46,70.31C324.77,67.86 323.35,63.85 323.22,61.01C323.09,58.17 323.42,55.84 323.68,53.26C323.94,50.67 323.6,46.41 324.77,45.5C325.93,44.6 328.64,47.44 330.66,47.83C332.67,48.22 335.05,48.37 336.86,47.83C338.67,47.29 339.32,45.17 341.51,44.57C343.71,43.98 347.45,45.14 350.04,44.26Z" fill="none" stroke="#3f7fbd" stroke-width="1.35" stroke-linecap="round" stroke-linejoin="round"/>
<path d="M308.18,60.23C309.21,59.43 311.54,58.19 313.6,58.06C315.67,57.93 318.51,58.58 320.58,59.46C322.65,60.34 324.46,61.65 326.01,63.33C327.56,65.01 329.37,67.6 329.88,69.53C330.4,71.47 329.88,73.67 329.11,74.96C328.33,76.25 326.78,77.29 325.23,77.29C323.68,77.29 321.74,75.99 319.81,74.96C317.87,73.93 315.41,72.38 313.6,71.09C311.8,69.79 309.99,68.58 308.95,67.21C307.92,65.84 307.53,64.03 307.4,62.87C307.27,61.71 307.14,61.03 308.18,60.23Z" fill="none" stroke="#d8325a" stroke-width="1.7" stroke-linecap="round" stroke-linejoin="round"/>
<circle cx="341.82" cy="43.64" r="3.45" fill="none" stroke="#f4a623" stroke-width="1.45"/>
<circle cx="349.26" cy="43.95" r="3.45" fill="none" stroke="#a9d9d6" stroke-width="1.1"/>
<circle cx="324.46" cy="45.19" r="3.45" fill="none" stroke="#b6a2d8" stroke-width="1.1"/>
<circle cx="312.52" cy="58.37" r="3.45" fill="none" stroke="#8f8c5e" stroke-width="1.1"/>
<circle cx="322.13" cy="60.7" r="3.45" fill="none" stroke="#7fa79c" stroke-width="1.1"/>
<circle cx="310.5" cy="68.45" r="3.45" fill="none" stroke="#c39bd6" stroke-width="1.1"/>
<circle cx="321.67" cy="74.96" r="3.45" fill="none" stroke="#7e6bc6" stroke-width="1.1"/>
<path d="M339.34,111.72C337.08,111.51 332.86,109.37 329.39,109C325.92,108.64 321.97,108.94 318.53,109.55C315.09,110.15 311.29,110.9 308.76,112.62C306.22,114.34 304.41,117.15 303.33,119.86C302.24,122.58 301.82,125.9 302.24,128.91C302.66,131.93 303.9,135.58 305.86,137.96C307.82,140.35 311.14,142.31 314,143.21C316.87,144.12 320.04,143.97 323.05,143.39C326.07,142.82 329.6,141.43 332.1,139.77C334.61,138.11 336.57,135.85 338.08,133.44C339.59,131.03 340.19,127.47 341.15,125.29C342.12,123.12 341.91,121.76 343.87,120.41C345.83,119.05 349.9,118.14 352.92,117.15C355.94,116.15 359.13,115.34 361.97,114.43C364.8,113.53 368.12,112.93 369.93,111.72C371.74,110.51 373.1,108.64 372.83,107.19C372.56,105.75 370.57,103.73 368.3,103.03C366.04,102.34 362.27,102.49 359.25,103.03C356.24,103.57 352.92,105.08 350.2,106.29C347.49,107.5 344.77,109.37 342.96,110.27C341.15,111.18 341.61,111.93 339.34,111.72Z" fill="none" stroke="#3f7fbd" stroke-width="1.35" stroke-linecap="round" stroke-linejoin="round"/>
<path d="M340.25,109C341,107.53 343.11,106.02 344.77,105.57C346.43,105.11 348.7,105.11 350.2,106.29C351.71,107.47 352.92,110.51 353.82,112.62C354.73,114.74 355.78,116.55 355.63,118.96C355.48,121.37 354.13,126.05 352.92,127.1C351.71,128.16 349.9,126.35 348.39,125.29C346.89,124.24 345.23,122.58 343.87,120.77C342.51,118.96 340.85,116.4 340.25,114.43C339.65,112.47 339.49,110.48 340.25,109Z" fill="none" stroke="#d8325a" stroke-width="1.6" stroke-linecap="round" stroke-linejoin="round"/>
<circle cx="339.89" cy="111.18" r="3.45" fill="none" stroke="#9a9560" stroke-width="1.1"/>
<circle cx="350.75" cy="105.93" r="3.45" fill="none" stroke="#a8dde0" stroke-width="1.1"/>
<circle cx="355.09" cy="116.24" r="3.45" fill="none" stroke="#f4a623" stroke-width="1.45"/>
<circle cx="342.42" cy="119.86" r="3.45" fill="none" stroke="#9b86c9" stroke-width="1.1"/>
<path d="M331.2,197.71C332.1,195.06 333.37,191.08 333.91,187.58C334.46,184.08 333.85,180.04 334.46,176.72C335.06,173.4 335.97,169.42 337.53,167.67C339.1,165.92 341.3,166.07 343.87,166.22C346.43,166.37 350.35,168.03 352.92,168.57C355.48,169.12 357.44,170.08 359.25,169.48C361.06,168.88 362.12,166.01 363.78,164.95C365.44,163.9 367.64,162.39 369.21,163.14C370.78,163.9 372.89,167.07 373.19,169.48C373.49,171.89 372.44,175.06 371.02,177.62C369.6,180.19 366.49,182.3 364.68,184.86C362.87,187.43 361.97,190.6 360.16,193.01C358.35,195.42 356.09,198.14 353.82,199.34C351.56,200.55 349.15,199.95 346.58,200.25C344.02,200.55 340.64,201.46 338.44,201.15C336.24,200.85 334.82,199.25 333.37,198.44C331.92,197.62 331.32,197.47 329.75,196.27C328.18,195.06 326.43,192.35 323.96,191.2C321.49,190.05 318.05,189.54 314.91,189.39C311.77,189.24 307.25,188.94 305.14,190.29C303.02,191.65 302.27,195.12 302.24,197.53C302.21,199.95 303.14,203.36 304.95,204.77C306.76,206.19 310.23,206.04 313.1,206.04C315.97,206.04 319.59,205.2 322.15,204.77C324.71,204.35 326.98,204.68 328.48,203.51C329.99,202.33 330.29,200.37 331.2,197.71Z" fill="none" stroke="#3f7fbd" stroke-width="1.35" stroke-linecap="round" stroke-linejoin="round"/>
<path d="M330.29,197.53C331.5,196.39 334.61,195.57 336.63,195.18C338.65,194.79 340.91,194.34 342.42,195.18C343.93,196.03 344.89,198.2 345.68,200.25C346.46,202.3 347.58,205.23 347.13,207.49C346.67,209.75 344.56,212.01 342.96,213.82C341.37,215.63 339.13,218.2 337.53,218.35C335.94,218.5 334.43,216.54 333.37,214.73C332.32,212.92 331.86,209.6 331.2,207.49C330.54,205.38 329.54,203.72 329.39,202.06C329.24,200.4 329.09,198.68 330.29,197.53Z" fill="none" stroke="#d8325a" stroke-width="1.6" stroke-linecap="round" stroke-linejoin="round"/>
<circle cx="330.29" cy="197.53" r="3.4" fill="none" stroke="#a98bd0" stroke-width="1.6"/>
<circle cx="329.03" cy="203.87" r="3.4" fill="none" stroke="#a0a080" stroke-width="1"/>
<circle cx="346.04" cy="199.89" r="3.4" fill="none" stroke="#f4a623" stroke-width="1.45"/>
<text x="387" y="19.9" font-size="12.5" font-weight="bold" fill="#000000">d</text>
<text x="489.6" y="13" font-size="8.2" textLength="100.2" lengthAdjust="spacingAndGlyphs">Frequency of self-crossings</text>
<circle cx="473" cy="84.3" r="37.8" fill="#fa8e65"/>
<path d="M473,84.3L473,46.5A37.8,37.8 0 0 0 438.03,69.94Z" fill="#66c2a5"/>
<path d="M473,84.3L474.19,46.52A37.8,37.8 0 0 0 473,46.5Z" fill="#8da0cb"/>
<circle cx="606.2" cy="84.6" r="38.2" fill="#66c2a5"/>
<path d="M606.2,84.6L625.65,117.48A38.2,38.2 0 0 0 609.79,46.57Z" fill="#fa8e65"/>
<path d="M606.2,84.6L609.79,46.57A38.2,38.2 0 0 0 606.2,46.4Z" fill="#8da0cb"/>
<text x="460.6" y="38.6" font-size="8" textLength="24.5" lengthAdjust="spacingAndGlyphs">Nicked</text>
<text x="584.9" y="38.5" font-size="8" textLength="42.7" lengthAdjust="spacingAndGlyphs">Supercoiled</text>
<text x="466" y="60.8" font-size="9.3" textLength="21.5" lengthAdjust="spacingAndGlyphs">0.5%</text>
<text x="447" y="72.3" font-size="9.3" textLength="26.2" lengthAdjust="spacingAndGlyphs">18.8%</text>
<text x="471.7" y="105.9" font-size="9.3" textLength="26.6" lengthAdjust="spacingAndGlyphs">80.7%</text>
<text x="597.4" y="64.4" font-size="9.3" textLength="20.8" lengthAdjust="spacingAndGlyphs">1.5%</text>
<text x="615.3" y="82.4" font-size="9.3" textLength="27.1" lengthAdjust="spacingAndGlyphs">40.0%</text>
<text x="570.7" y="92.9" font-size="9.3" textLength="27.6" lengthAdjust="spacingAndGlyphs">58.5%</text>
<rect x="405.2" y="8.9" width="53.1" height="45.3" rx="1.5" fill="#ffffff" fill-opacity="0.8" stroke="#cccccc" stroke-width="0.8"/>
<text x="408" y="16.4" font-size="8" textLength="47.2" lengthAdjust="spacingAndGlyphs">Self-crossings</text>
<rect x="416.9" y="22.7" width="15" height="4.9" fill="#66c2a5"/>
<text x="437.9" y="27.6" font-size="8">0</text>
<rect x="416.9" y="33.9" width="15" height="4.9" fill="#fa8e65"/>
<text x="437.9" y="38.8" font-size="8">1</text>
<rect x="416.9" y="45.1" width="15" height="4.9" fill="#8da0cb"/>
<text x="437.9" y="50" font-size="8">2+</text>
<text x="387.4" y="136.4" font-size="12.5" font-weight="bold" fill="#000000">e</text>
<text x="460.8" y="138" font-size="8.2" textLength="152.6" lengthAdjust="spacingAndGlyphs">Distance between catenated crossings</text>
<rect x="430.2" y="214.68" width="6.13" height="0.42" fill="#fc8d62" fill-opacity="0.5" stroke="#262626" stroke-width="0.55" stroke-opacity="0.9"/>
<rect x="436.33" y="213.13" width="6.13" height="1.97" fill="#fc8d62" fill-opacity="0.5" stroke="#262626" stroke-width="0.55" stroke-opacity="0.9"/>
<rect x="442.46" y="204.54" width="6.13" height="10.56" fill="#fc8d62" fill-opacity="0.5" stroke="#262626" stroke-width="0.55" stroke-opacity="0.9"/>
<rect x="448.59" y="177.41" width="6.13" height="37.69" fill="#fc8d62" fill-opacity="0.5" stroke="#262626" stroke-width="0.55" stroke-opacity="0.9"/>
<rect x="454.71" y="149.27" width="6.13" height="65.83" fill="#fc8d62" fill-opacity="0.5" stroke="#262626" stroke-width="0.55" stroke-opacity="0.9"/>
<rect x="460.84" y="151.4" width="6.13" height="63.7" fill="#fc8d62" fill-opacity="0.5" stroke="#262626" stroke-width="0.55" stroke-opacity="0.9"/>
<rect x="466.97" y="163.18" width="6.13" height="51.92" fill="#fc8d62" fill-opacity="0.5" stroke="#262626" stroke-width="0.55" stroke-opacity="0.9"/>
<rect x="473.1" y="173.36" width="6.13" height="41.74" fill="#fc8d62" fill-opacity="0.5" stroke="#262626" stroke-width="0.55" stroke-opacity="0.9"/>
<rect x="479.23" y="185.65" width="6.13" height="29.45" fill="#fc8d62" fill-opacity="0.5" stroke="#262626" stroke-width="0.55" stroke-opacity="0.9"/>
<rect x="485.36" y="196.62" width="6.13" height="18.48" fill="#fc8d62" fill-opacity="0.5" stroke="#262626" stroke-width="0.55" stroke-opacity="0.9"/>
<rect x="491.49" y="206.27" width="6.13" height="8.83" fill="#fc8d62" fill-opacity="0.5" stroke="#262626" stroke-width="0.55" stroke-opacity="0.9"/>
<rect x="497.61" y="210.12" width="6.13" height="4.98" fill="#fc8d62" fill-opacity="0.5" stroke="#262626" stroke-width="0.55" stroke-opacity="0.9"/>
<rect x="503.74" y="211.67" width="6.13" height="3.43" fill="#fc8d62" fill-opacity="0.5" stroke="#262626" stroke-width="0.55" stroke-opacity="0.9"/>
<rect x="509.87" y="213.02" width="6.13" height="2.08" fill="#fc8d62" fill-opacity="0.5" stroke="#262626" stroke-width="0.55" stroke-opacity="0.9"/>
<rect x="516" y="213.54" width="6.13" height="1.56" fill="#fc8d62" fill-opacity="0.5" stroke="#262626" stroke-width="0.55" stroke-opacity="0.9"/>
<rect x="522.13" y="213.96" width="6.13" height="1.14" fill="#fc8d62" fill-opacity="0.5" stroke="#262626" stroke-width="0.55" stroke-opacity="0.9"/>
<rect x="528.26" y="214.27" width="6.13" height="0.83" fill="#fc8d62" fill-opacity="0.5" stroke="#262626" stroke-width="0.55" stroke-opacity="0.9"/>
<rect x="534.39" y="214.48" width="6.13" height="0.62" fill="#fc8d62" fill-opacity="0.5" stroke="#262626" stroke-width="0.55" stroke-opacity="0.9"/>
<rect x="540.51" y="214.58" width="6.13" height="0.52" fill="#fc8d62" fill-opacity="0.5" stroke="#262626" stroke-width="0.55" stroke-opacity="0.9"/>
<rect x="546.64" y="214.68" width="6.13" height="0.42" fill="#fc8d62" fill-opacity="0.5" stroke="#262626" stroke-width="0.55" stroke-opacity="0.9"/>
<rect x="552.77" y="214.79" width="6.13" height="0.31" fill="#fc8d62" fill-opacity="0.5" stroke="#262626" stroke-width="0.55" stroke-opacity="0.9"/>
<rect x="558.9" y="214.84" width="6.13" height="0.26" fill="#fc8d62" fill-opacity="0.5" stroke="#262626" stroke-width="0.55" stroke-opacity="0.9"/>
<rect x="565.03" y="214.89" width="6.13" height="0.21" fill="#fc8d62" fill-opacity="0.5" stroke="#262626" stroke-width="0.55" stroke-opacity="0.9"/>
<rect x="430.2" y="214.89" width="6.13" height="0.21" fill="#e78ac3" fill-opacity="0.5" stroke="#262626" stroke-width="0.55" stroke-opacity="0.9"/>
<rect x="436.33" y="214.06" width="6.13" height="1.04" fill="#e78ac3" fill-opacity="0.5" stroke="#262626" stroke-width="0.55" stroke-opacity="0.9"/>
<rect x="442.46" y="211.93" width="6.13" height="3.17" fill="#e78ac3" fill-opacity="0.5" stroke="#262626" stroke-width="0.55" stroke-opacity="0.9"/>
<rect x="448.59" y="207.52" width="6.13" height="7.58" fill="#e78ac3" fill-opacity="0.5" stroke="#262626" stroke-width="0.55" stroke-opacity="0.9"/>
<rect x="454.71" y="201.91" width="6.13" height="13.19" fill="#e78ac3" fill-opacity="0.5" stroke="#262626" stroke-width="0.55" stroke-opacity="0.9"/>
<rect x="460.84" y="200.49" width="6.13" height="14.61" fill="#e78ac3" fill-opacity="0.5" stroke="#262626" stroke-width="0.55" stroke-opacity="0.9"/>
<rect x="466.97" y="199.61" width="6.13" height="15.49" fill="#e78ac3" fill-opacity="0.5" stroke="#262626" stroke-width="0.55" stroke-opacity="0.9"/>
<rect x="473.1" y="199.61" width="6.13" height="15.49" fill="#e78ac3" fill-opacity="0.5" stroke="#262626" stroke-width="0.55" stroke-opacity="0.9"/>
<rect x="479.23" y="202.26" width="6.13" height="12.84" fill="#e78ac3" fill-opacity="0.5" stroke="#262626" stroke-width="0.55" stroke-opacity="0.9"/>
<rect x="485.36" y="206.29" width="6.13" height="8.81" fill="#e78ac3" fill-opacity="0.5" stroke="#262626" stroke-width="0.55" stroke-opacity="0.9"/>
<rect x="491.49" y="207.21" width="6.13" height="7.89" fill="#e78ac3" fill-opacity="0.5" stroke="#262626" stroke-width="0.55" stroke-opacity="0.9"/>
<rect x="497.61" y="208.56" width="6.13" height="6.54" fill="#e78ac3" fill-opacity="0.5" stroke="#262626" stroke-width="0.55" stroke-opacity="0.9"/>
<rect x="503.74" y="208.45" width="6.13" height="6.65" fill="#e78ac3" fill-opacity="0.5" stroke="#262626" stroke-width="0.55" stroke-opacity="0.9"/>
<rect x="509.87" y="207.83" width="6.13" height="7.27" fill="#e78ac3" fill-opacity="0.5" stroke="#262626" stroke-width="0.55" stroke-opacity="0.9"/>
<rect x="516" y="206.9" width="6.13" height="8.2" fill="#e78ac3" fill-opacity="0.5" stroke="#262626" stroke-width="0.55" stroke-opacity="0.9"/>
<rect x="522.13" y="207.31" width="6.13" height="7.79" fill="#e78ac3" fill-opacity="0.5" stroke="#262626" stroke-width="0.55" stroke-opacity="0.9"/>
<rect x="528.26" y="206.68" width="6.13" height="8.42" fill="#e78ac3" fill-opacity="0.5" stroke="#262626" stroke-width="0.55" stroke-opacity="0.9"/>
<rect x="534.39" y="207.15" width="6.13" height="7.95" fill="#e78ac3" fill-opacity="0.5" stroke="#262626" stroke-width="0.55" stroke-opacity="0.9"/>
<rect x="540.51" y="207.62" width="6.13" height="7.48" fill="#e78ac3" fill-opacity="0.5" stroke="#262626" stroke-width="0.55" stroke-opacity="0.9"/>
<rect x="546.64" y="209.49" width="6.13" height="5.61" fill="#e78ac3" fill-opacity="0.5" stroke="#262626" stroke-width="0.55" stroke-opacity="0.9"/>
<rect x="552.77" y="210.43" width="6.13" height="4.67" fill="#e78ac3" fill-opacity="0.5" stroke="#262626" stroke-width="0.55" stroke-opacity="0.9"/>
<rect x="558.9" y="211.36" width="6.13" height="3.74" fill="#e78ac3" fill-opacity="0.5" stroke="#262626" stroke-width="0.55" stroke-opacity="0.9"/>
<rect x="565.03" y="212.5" width="6.13" height="2.6" fill="#e78ac3" fill-opacity="0.5" stroke="#262626" stroke-width="0.55" stroke-opacity="0.9"/>
<rect x="571.16" y="213.23" width="6.13" height="1.87" fill="#e78ac3" fill-opacity="0.5" stroke="#262626" stroke-width="0.55" stroke-opacity="0.9"/>
<rect x="577.29" y="213.93" width="6.13" height="1.17" fill="#e78ac3" fill-opacity="0.5" stroke="#262626" stroke-width="0.55" stroke-opacity="0.9"/>
<rect x="583.41" y="214.37" width="6.13" height="0.73" fill="#e78ac3" fill-opacity="0.5" stroke="#262626" stroke-width="0.55" stroke-opacity="0.9"/>
<rect x="589.54" y="214.68" width="6.13" height="0.42" fill="#e78ac3" fill-opacity="0.5" stroke="#262626" stroke-width="0.55" stroke-opacity="0.9"/>
<rect x="595.67" y="214.84" width="6.13" height="0.26" fill="#e78ac3" fill-opacity="0.5" stroke="#262626" stroke-width="0.55" stroke-opacity="0.9"/>
<rect x="430.2" y="142.3" width="214.5" height="72.8" fill="none" stroke="#262626" stroke-width="0.9"/>
<text x="423.2" y="218.15" font-size="8.75" text-anchor="end">0</text>
<text x="423.2" y="197.38" font-size="8.75" text-anchor="end">2000</text>
<text x="423.2" y="176.62" font-size="8.75" text-anchor="end">4000</text>
<text x="423.2" y="155.85" font-size="8.75" text-anchor="end">6000</text>
<text x="430.2" y="228.2" font-size="8.6" text-anchor="middle">0</text>
<text x="460.84" y="228.2" font-size="8.6" text-anchor="middle">5</text>
<text x="491.49" y="228.2" font-size="8.6" text-anchor="middle">10</text>
<text x="522.13" y="228.2" font-size="8.6" text-anchor="middle">15</text>
<text x="552.77" y="228.2" font-size="8.6" text-anchor="middle">20</text>
<text x="583.41" y="228.2" font-size="8.6" text-anchor="middle">25</text>
<text x="614.06" y="228.2" font-size="8.6" text-anchor="middle">30</text>
<text x="644.7" y="228.2" font-size="8.6" text-anchor="middle">35</text>
<text x="509" y="239" font-size="8" textLength="55" lengthAdjust="spacingAndGlyphs">Distance (nm)</text>
<text x="400" y="178.9" font-size="8.4" text-anchor="middle" textLength="41" lengthAdjust="spacingAndGlyphs" transform="rotate(-90 400 178.9)">Frequency</text>
<rect x="559.7" y="146.4" width="79.9" height="28.1" rx="1.5" fill="#ffffff" fill-opacity="0.8" stroke="#dddddd" stroke-width="0.7"/>
<rect x="563.5" y="150.6" width="18.0" height="5.8" fill="#fc8d62" fill-opacity="0.5" stroke="#262626" stroke-width="0.55"/>
<rect x="563.5" y="163.1" width="18.0" height="5.8" fill="#e78ac3" fill-opacity="0.5" stroke="#262626" stroke-width="0.55"/>
<text x="588.9" y="156.6" font-size="8.7" textLength="26.3" lengthAdjust="spacingAndGlyphs">Nicked</text>
<text x="588.9" y="169.3" font-size="8.7" textLength="46.4" lengthAdjust="spacingAndGlyphs">Supercoiled</text>
<text x="3" y="249.4" font-size="12.5" font-weight="bold" fill="#000000">f</text>
<text x="69.1" y="257" font-size="8.8" textLength="80.5" lengthAdjust="spacingAndGlyphs">Writhe of large circle</text>
<text x="21.6" y="265" font-size="9.3" text-anchor="end">2</text>
<text x="21.6" y="291" font-size="9.3" text-anchor="end">0</text>
<text x="21.6" y="317.3" font-size="9.3" text-anchor="end">−2</text>
<text x="21.6" y="343.6" font-size="9.3" text-anchor="end">−4</text>
<text x="6.5" y="310.2" font-size="8.9" text-anchor="middle" textLength="26.2" lengthAdjust="spacingAndGlyphs" transform="rotate(-90 6.5 310.2)">Writhe</text>
<path d="M48.2,269.9C48.12,270.17 47.97,271.05 47.7,271.5C47.43,271.95 47.27,272.28 46.6,272.6C45.93,272.92 45.42,273.05 43.7,273.4C41.98,273.75 38.35,274.28 36.3,274.7C34.25,275.12 30.92,275.47 31.4,275.9C31.88,276.33 37.03,276.8 39.2,277.3C41.37,277.8 43.2,278.4 44.4,278.9C45.6,279.4 45.77,279.83 46.4,280.3C47.03,280.77 47.9,281.47 48.2,281.7L48.2,281.7C48.5,281.47 49.37,280.77 50,280.3C50.63,279.83 50.8,279.4 52,278.9C53.2,278.4 55.03,277.8 57.2,277.3C59.37,276.8 64.52,276.33 65,275.9C65.48,275.47 62.15,275.12 60.1,274.7C58.05,274.28 54.42,273.75 52.7,273.4C50.98,273.05 50.47,272.92 49.8,272.6C49.13,272.28 48.97,271.95 48.7,271.5C48.43,271.05 48.28,270.17 48.2,269.9Z" fill="#72b8a1" stroke="#3a3a3a" stroke-width="0.8" stroke-linejoin="round"/>
<line x1="48.2" y1="270" x2="48.2" y2="281" stroke="#4a4a4a" stroke-width="0.8"/>
<line x1="48.2" y1="271.3" x2="48.2" y2="278.9" stroke="#484848" stroke-width="3.2" stroke-linecap="round"/>
<rect x="47.15" y="275.35" width="2.1" height="1.1" fill="#f4f4f4"/>
<path d="M89.1,266.9C88.63,267.17 87.65,267.92 86.3,268.5C84.95,269.08 82.82,269.77 81,270.4C79.18,271.03 76.83,271.7 75.4,272.3C73.97,272.9 72.38,273.45 72.4,274C72.42,274.55 74.07,275.02 75.5,275.6C76.93,276.18 79.43,276.87 81,277.5C82.57,278.13 83.9,278.75 84.9,279.4C85.9,280.05 86.9,280.75 87,281.4C87.1,282.05 86.12,282.65 85.5,283.3C84.88,283.95 83.83,284.65 83.3,285.3C82.77,285.95 82.23,286.57 82.3,287.2C82.37,287.83 83.05,288.45 83.7,289.1C84.35,289.75 85.5,290.5 86.2,291.1C86.9,291.7 87.5,292.05 87.9,292.7C88.3,293.35 88.47,293.95 88.6,295C88.73,296.05 88.62,297.4 88.7,299C88.78,300.6 89.03,303.67 89.1,304.6L89.1,304.6C89.17,303.67 89.42,300.6 89.5,299C89.58,297.4 89.47,296.05 89.6,295C89.73,293.95 89.9,293.35 90.3,292.7C90.7,292.05 91.3,291.7 92,291.1C92.7,290.5 93.85,289.75 94.5,289.1C95.15,288.45 95.83,287.83 95.9,287.2C95.97,286.57 95.43,285.95 94.9,285.3C94.37,284.65 93.32,283.95 92.7,283.3C92.08,282.65 91.1,282.05 91.2,281.4C91.3,280.75 92.3,280.05 93.3,279.4C94.3,278.75 95.63,278.13 97.2,277.5C98.77,276.87 101.27,276.18 102.7,275.6C104.13,275.02 105.78,274.55 105.8,274C105.82,273.45 104.23,272.9 102.8,272.3C101.37,271.7 99.02,271.03 97.2,270.4C95.38,269.77 93.25,269.08 91.9,268.5C90.55,267.92 89.57,267.17 89.1,266.9Z" fill="#ea9470" stroke="#3a3a3a" stroke-width="0.8" stroke-linejoin="round"/>
<line x1="89.1" y1="268" x2="89.1" y2="304.4" stroke="#4a4a4a" stroke-width="0.8"/>
<line x1="89.1" y1="273.4" x2="89.1" y2="291.2" stroke="#484848" stroke-width="3.2" stroke-linecap="round"/>
<rect x="88.05" y="273.75" width="2.1" height="1.1" fill="#f4f4f4"/>
<path d="M130.2,298C130.11,298.85 129.9,301.73 129.65,303.1C129.4,304.47 129.12,305.25 128.7,306.2C128.27,307.15 127.75,308.02 127.1,308.8C126.45,309.58 125.62,310.22 124.8,310.9C123.98,311.58 122.78,312.22 122.2,312.9C121.62,313.58 121.28,314.3 121.3,315C121.32,315.7 122.07,316.42 122.3,317.1C122.53,317.78 123.02,318.42 122.7,319.1C122.38,319.78 121.52,320.5 120.4,321.2C119.28,321.9 117.15,322.62 116,323.3C114.85,323.98 113.82,324.67 113.5,325.3C113.18,325.93 113.73,326.5 114.1,327.1C114.47,327.7 114.87,328.25 115.7,328.9C116.53,329.55 117.72,330.3 119.1,331C120.48,331.7 122.57,332.47 124,333.1C125.43,333.73 126.67,334.35 127.7,334.8C128.73,335.25 129.78,335.63 130.2,335.8L130.2,335.8C130.62,335.63 131.67,335.25 132.7,334.8C133.73,334.35 134.97,333.73 136.4,333.1C137.83,332.47 139.92,331.7 141.3,331C142.68,330.3 143.87,329.55 144.7,328.9C145.53,328.25 145.93,327.7 146.3,327.1C146.67,326.5 147.22,325.93 146.9,325.3C146.58,324.67 145.55,323.98 144.4,323.3C143.25,322.62 141.12,321.9 140,321.2C138.88,320.5 138.02,319.78 137.7,319.1C137.38,318.42 137.87,317.78 138.1,317.1C138.33,316.42 139.08,315.7 139.1,315C139.12,314.3 138.78,313.58 138.2,312.9C137.62,312.22 136.42,311.58 135.6,310.9C134.78,310.22 133.95,309.58 133.3,308.8C132.65,308.02 132.12,307.15 131.7,306.2C131.27,305.25 131,304.47 130.75,303.1C130.5,301.73 130.29,298.85 130.2,298Z" fill="#92a1c4" stroke="#3a3a3a" stroke-width="0.8" stroke-linejoin="round"/>
<line x1="130.2" y1="298.5" x2="130.2" y2="331.5" stroke="#4a4a4a" stroke-width="0.8"/>
<line x1="130.2" y1="314.8" x2="130.2" y2="328" stroke="#484848" stroke-width="3.2" stroke-linecap="round"/>
<rect x="129.15" y="323.45" width="2.1" height="1.1" fill="#f4f4f4"/>
<path d="M171.3,267.2C170.82,267.62 169.53,268.9 168.4,269.75C167.27,270.6 165.43,271.54 164.5,272.3C163.57,273.06 162.75,273.65 162.8,274.3C162.85,274.95 164.03,275.57 164.8,276.2C165.57,276.83 166.67,277.45 167.4,278.1C168.13,278.75 169.33,279.52 169.2,280.1C169.07,280.68 167.87,281.07 166.6,281.6C165.33,282.13 163.1,282.73 161.6,283.3C160.1,283.87 158.75,284.47 157.6,285C156.45,285.53 154.62,285.97 154.7,286.5C154.78,287.03 156.73,287.58 158.1,288.2C159.47,288.82 161.45,289.57 162.9,290.2C164.35,290.83 165.72,291.42 166.8,292C167.88,292.58 168.78,293.1 169.4,293.7C170.02,294.3 170.27,294.88 170.5,295.6C170.73,296.32 170.8,297.13 170.8,298C170.8,298.87 170.48,299.8 170.5,300.8C170.52,301.8 170.77,302.82 170.9,304C171.03,305.18 171.23,307.25 171.3,307.9L171.3,307.9C171.37,307.25 171.57,305.18 171.7,304C171.83,302.82 172.08,301.8 172.1,300.8C172.12,299.8 171.8,298.87 171.8,298C171.8,297.13 171.87,296.32 172.1,295.6C172.33,294.88 172.58,294.3 173.2,293.7C173.82,293.1 174.72,292.58 175.8,292C176.88,291.42 178.25,290.83 179.7,290.2C181.15,289.57 183.13,288.82 184.5,288.2C185.87,287.58 187.82,287.03 187.9,286.5C187.98,285.97 186.15,285.53 185,285C183.85,284.47 182.5,283.87 181,283.3C179.5,282.73 177.27,282.13 176,281.6C174.73,281.07 173.53,280.68 173.4,280.1C173.27,279.52 174.47,278.75 175.2,278.1C175.93,277.45 177.03,276.83 177.8,276.2C178.57,275.57 179.75,274.95 179.8,274.3C179.85,273.65 179.03,273.06 178.1,272.3C177.17,271.54 175.33,270.6 174.2,269.75C173.07,268.9 171.78,267.62 171.3,267.2Z" fill="#d893bd" stroke="#3a3a3a" stroke-width="0.8" stroke-linejoin="round"/>
<line x1="171.3" y1="268" x2="171.3" y2="307.6" stroke="#4a4a4a" stroke-width="0.8"/>
<line x1="171.3" y1="273.8" x2="171.3" y2="288.2" stroke="#484848" stroke-width="3.2" stroke-linecap="round"/>
<rect x="170.25" y="285.95" width="2.1" height="1.1" fill="#f4f4f4"/>
<rect x="27.3" y="261.4" width="164.4" height="98.6" fill="none" stroke="#262626" stroke-width="0.9"/>
<text x="27.8" y="372.3" font-size="7.8" textLength="40.4" lengthAdjust="spacingAndGlyphs">Equilibrated</text>
<text x="72.6" y="372.3" font-size="7.8" textLength="33.4" lengthAdjust="spacingAndGlyphs">Adsorbed</text>
<text x="110" y="372.3" font-size="7.8" textLength="40.6" lengthAdjust="spacingAndGlyphs">Equilibrated</text>
<text x="154.8" y="372.3" font-size="7.8" textLength="32.7" lengthAdjust="spacingAndGlyphs">Adsorbed</text>
<text x="57.6" y="383.1" font-size="8" textLength="24.5" lengthAdjust="spacingAndGlyphs">Nicked</text>
<text x="128.6" y="382.6" font-size="8" textLength="43.1" lengthAdjust="spacingAndGlyphs">Supercoiled</text>
<text x="196.2" y="249.4" font-size="12.5" font-weight="bold" fill="#000000">g</text>
<text x="270.5" y="257" font-size="8.8" textLength="74" lengthAdjust="spacingAndGlyphs">Twist of large circle</text>
<text x="219" y="265" font-size="9.3" text-anchor="end">2</text>
<text x="219" y="291" font-size="9.3" text-anchor="end">0</text>
<text x="219" y="317.3" font-size="9.3" text-anchor="end">−2</text>
<text x="219" y="343.6" font-size="9.3" text-anchor="end">−4</text>
<text x="203.8" y="310.9" font-size="8.8" text-anchor="middle" textLength="19.8" lengthAdjust="spacingAndGlyphs" transform="rotate(-90 203.8 310.9)">Twist</text>
<path d="M246,280C245.75,280.23 245.13,280.93 244.5,281.4C243.87,281.87 243.52,282.33 242.2,282.8C240.88,283.27 238.75,283.67 236.6,284.2C234.45,284.73 229.18,285.38 229.3,286C229.42,286.62 235.15,287.32 237.3,287.9C239.45,288.48 240.98,289 242.2,289.5C243.42,290 244.06,290.32 244.6,290.9C245.14,291.48 245.29,292.15 245.45,293C245.61,293.85 245.46,294.9 245.55,296C245.64,297.1 245.93,299 246,299.6L246,299.6C246.07,299 246.36,297.1 246.45,296C246.54,294.9 246.39,293.85 246.55,293C246.71,292.15 246.86,291.48 247.4,290.9C247.94,290.32 248.58,290 249.8,289.5C251.02,289 252.55,288.48 254.7,287.9C256.85,287.32 262.58,286.62 262.7,286C262.82,285.38 257.55,284.73 255.4,284.2C253.25,283.67 251.12,283.27 249.8,282.8C248.48,282.33 248.13,281.87 247.5,281.4C246.87,280.93 246.25,280.23 246,280Z" fill="#72b8a1" stroke="#626262" stroke-width="0.7" stroke-linejoin="round"/>
<line x1="246" y1="280.5" x2="246" y2="299.4" stroke="#7a7a7a" stroke-width="0.8"/>
<line x1="246" y1="283.3" x2="246" y2="289.5" stroke="#666666" stroke-width="2.4" stroke-linecap="round"/>
<rect x="244.95" y="285.95" width="2.1" height="1.1" fill="#f4f4f4"/>
<path d="M286.9,283.5C286.73,283.7 286.48,284.32 285.9,284.7C285.32,285.08 284.98,285.47 283.4,285.8C281.82,286.13 278.6,286.35 276.4,286.7C274.2,287.05 270.12,287.52 270.2,287.9C270.28,288.28 274.7,288.65 276.9,289C279.1,289.35 281.93,289.68 283.4,290C284.87,290.32 285.2,290.4 285.7,290.9C286.2,291.4 286.27,291.82 286.4,293C286.53,294.18 286.42,296.2 286.5,298C286.58,299.8 286.83,302.83 286.9,303.8L286.9,303.8C286.97,302.83 287.22,299.8 287.3,298C287.38,296.2 287.27,294.18 287.4,293C287.53,291.82 287.6,291.4 288.1,290.9C288.6,290.4 288.93,290.32 290.4,290C291.87,289.68 294.7,289.35 296.9,289C299.1,288.65 303.52,288.28 303.6,287.9C303.68,287.52 299.6,287.05 297.4,286.7C295.2,286.35 291.98,286.13 290.4,285.8C288.82,285.47 288.48,285.08 287.9,284.7C287.32,284.32 287.07,283.7 286.9,283.5Z" fill="#ea9470" stroke="#626262" stroke-width="0.7" stroke-linejoin="round"/>
<line x1="286.9" y1="284" x2="286.9" y2="303.6" stroke="#7a7a7a" stroke-width="0.8"/>
<line x1="286.9" y1="285.8" x2="286.9" y2="290" stroke="#666666" stroke-width="2.4" stroke-linecap="round"/>
<rect x="285.85" y="287.35" width="2.1" height="1.1" fill="#f4f4f4"/>
<path d="M327.9,294C327.4,294.33 326.23,295.35 324.9,296C323.57,296.65 321.72,297.25 319.9,297.9C318.08,298.55 315.48,299.23 314,299.9C312.52,300.57 310.83,301.23 311,301.9C311.17,302.57 313.35,303.23 315,303.9C316.65,304.57 319.25,305.23 320.9,305.9C322.55,306.57 323.9,307.33 324.9,307.9C325.9,308.47 326.4,308.73 326.9,309.3C327.4,309.87 327.73,310.97 327.9,311.3L327.9,311.3C328.07,310.97 328.4,309.87 328.9,309.3C329.4,308.73 329.9,308.47 330.9,307.9C331.9,307.33 333.25,306.57 334.9,305.9C336.55,305.23 339.15,304.57 340.8,303.9C342.45,303.23 344.63,302.57 344.8,301.9C344.97,301.23 343.28,300.57 341.8,299.9C340.32,299.23 337.72,298.55 335.9,297.9C334.08,297.25 332.23,296.65 330.9,296C329.57,295.35 328.4,294.33 327.9,294Z" fill="#92a1c4" stroke="#626262" stroke-width="0.7" stroke-linejoin="round"/>
<line x1="327.9" y1="294.5" x2="327.9" y2="311" stroke="#7a7a7a" stroke-width="0.8"/>
<line x1="327.9" y1="297.9" x2="327.9" y2="306.5" stroke="#666666" stroke-width="2.4" stroke-linecap="round"/>
<rect x="326.85" y="301.95" width="2.1" height="1.1" fill="#f4f4f4"/>
<path d="M368.7,323.2C368.48,323.5 367.72,324.3 367.4,325C367.08,325.7 366.82,326.63 366.8,327.4C366.78,328.17 367.06,328.87 367.3,329.6C367.54,330.33 368.09,331.07 368.25,331.8C368.41,332.53 368.32,333.43 368.25,334C368.18,334.57 368.14,334.8 367.8,335.2C367.46,335.6 367.22,335.97 366.2,336.4C365.18,336.83 363.28,337.33 361.7,337.8C360.12,338.27 358.32,338.77 356.7,339.2C355.08,339.63 351.92,339.97 352,340.4C352.08,340.83 355.42,341.35 357.2,341.8C358.98,342.25 361.12,342.62 362.7,343.1C364.28,343.58 365.78,344.13 366.7,344.7C367.62,345.27 367.93,345.45 368.2,346.5C368.47,347.55 368.22,349.37 368.3,351C368.38,352.63 368.63,355.42 368.7,356.3L368.7,356.3C368.77,355.42 369.02,352.63 369.1,351C369.18,349.37 368.93,347.55 369.2,346.5C369.47,345.45 369.78,345.27 370.7,344.7C371.62,344.13 373.12,343.58 374.7,343.1C376.28,342.62 378.42,342.25 380.2,341.8C381.98,341.35 385.32,340.83 385.4,340.4C385.48,339.97 382.32,339.63 380.7,339.2C379.08,338.77 377.28,338.27 375.7,337.8C374.12,337.33 372.22,336.83 371.2,336.4C370.18,335.97 369.94,335.6 369.6,335.2C369.26,334.8 369.22,334.57 369.15,334C369.07,333.43 368.99,332.53 369.15,331.8C369.31,331.07 369.86,330.33 370.1,329.6C370.34,328.87 370.62,328.17 370.6,327.4C370.58,326.63 370.32,325.7 370,325C369.68,324.3 368.92,323.5 368.7,323.2Z" fill="#d893bd" stroke="#626262" stroke-width="0.7" stroke-linejoin="round"/>
<line x1="368.7" y1="324" x2="368.7" y2="356" stroke="#7a7a7a" stroke-width="0.8"/>
<line x1="368.7" y1="337.2" x2="368.7" y2="343.1" stroke="#666666" stroke-width="2.4" stroke-linecap="round"/>
<rect x="367.65" y="339.85" width="2.1" height="1.1" fill="#f4f4f4"/>
<rect x="225.8" y="261.4" width="163.8" height="98.6" fill="none" stroke="#262626" stroke-width="0.9"/>
<text x="225.7" y="372.3" font-size="7.8" textLength="40.4" lengthAdjust="spacingAndGlyphs">Equilibrated</text>
<text x="270.5" y="372.3" font-size="7.8" textLength="32.9" lengthAdjust="spacingAndGlyphs">Adsorbed</text>
<text x="307.6" y="372.3" font-size="7.8" textLength="40.4" lengthAdjust="spacingAndGlyphs">Equilibrated</text>
<text x="352.4" y="372.3" font-size="7.8" textLength="33" lengthAdjust="spacingAndGlyphs">Adsorbed</text>
<text x="257.3" y="383.1" font-size="8" textLength="24.6" lengthAdjust="spacingAndGlyphs">Nicked</text>
<text x="328.3" y="382.6" font-size="8" textLength="42.9" lengthAdjust="spacingAndGlyphs">Supercoiled</text>
<text x="394.6" y="249.4" font-size="12.5" font-weight="bold" fill="#000000">h</text>
<text x="438" y="257.5" font-size="8.8" textLength="107.2" lengthAdjust="spacingAndGlyphs">PCA of simulation statistics</text>
<circle cx="438.24" cy="313.49" r="2.35" fill="#66c2a5" stroke="#ffffff" stroke-width="0.45"/>
<circle cx="437.25" cy="316.34" r="2.35" fill="#66c2a5" stroke="#ffffff" stroke-width="0.45"/>
<circle cx="439.66" cy="316.05" r="2.35" fill="#66c2a5" stroke="#ffffff" stroke-width="0.45"/>
<circle cx="439.38" cy="318.47" r="2.35" fill="#66c2a5" stroke="#ffffff" stroke-width="0.45"/>
<circle cx="436.53" cy="320.6" r="2.35" fill="#66c2a5" stroke="#ffffff" stroke-width="0.45"/>
<circle cx="437.96" cy="323.45" r="2.35" fill="#66c2a5" stroke="#ffffff" stroke-width="0.45"/>
<circle cx="440.09" cy="324.87" r="2.35" fill="#66c2a5" stroke="#ffffff" stroke-width="0.45"/>
<circle cx="436.53" cy="330.56" r="2.35" fill="#66c2a5" stroke="#ffffff" stroke-width="0.45"/>
<circle cx="438.67" cy="327.01" r="2.35" fill="#66c2a5" stroke="#ffffff" stroke-width="0.45"/>
<circle cx="441.51" cy="327.72" r="2.35" fill="#66c2a5" stroke="#ffffff" stroke-width="0.45"/>
<circle cx="443.65" cy="327.01" r="2.35" fill="#66c2a5" stroke="#ffffff" stroke-width="0.45"/>
<circle cx="436.82" cy="328" r="2.35" fill="#66c2a5" stroke="#ffffff" stroke-width="0.45"/>
<circle cx="440.8" cy="322.03" r="2.35" fill="#66c2a5" stroke="#ffffff" stroke-width="0.45"/>
<circle cx="442.22" cy="319.18" r="2.35" fill="#66c2a5" stroke="#ffffff" stroke-width="0.45"/>
<circle cx="436.25" cy="317.76" r="2.35" fill="#66c2a5" stroke="#ffffff" stroke-width="0.45"/>
<circle cx="442.94" cy="324.16" r="2.35" fill="#66c2a5" stroke="#ffffff" stroke-width="0.45"/>
<circle cx="445.07" cy="328.43" r="2.35" fill="#66c2a5" stroke="#ffffff" stroke-width="0.45"/>
<circle cx="439.1" cy="332.27" r="2.35" fill="#66c2a5" stroke="#ffffff" stroke-width="0.45"/>
<circle cx="435.82" cy="325.58" r="2.35" fill="#66c2a5" stroke="#ffffff" stroke-width="0.45"/>
<circle cx="441.09" cy="329.85" r="2.35" fill="#66c2a5" stroke="#ffffff" stroke-width="0.45"/>
<circle cx="505.57" cy="321.08" r="2.35" fill="#8da0cb" stroke="#ffffff" stroke-width="0.45"/>
<circle cx="491.08" cy="328.47" r="2.35" fill="#8da0cb" stroke="#ffffff" stroke-width="0.45"/>
<circle cx="495.62" cy="328.89" r="2.35" fill="#8da0cb" stroke="#ffffff" stroke-width="0.45"/>
<circle cx="488.52" cy="331.02" r="2.35" fill="#8da0cb" stroke="#ffffff" stroke-width="0.45"/>
<circle cx="494.2" cy="332.02" r="2.35" fill="#8da0cb" stroke="#ffffff" stroke-width="0.45"/>
<circle cx="490.65" cy="333.44" r="2.35" fill="#8da0cb" stroke="#ffffff" stroke-width="0.45"/>
<circle cx="494.2" cy="335.28" r="2.35" fill="#8da0cb" stroke="#ffffff" stroke-width="0.45"/>
<circle cx="488.52" cy="336.7" r="2.35" fill="#8da0cb" stroke="#ffffff" stroke-width="0.45"/>
<circle cx="480.71" cy="336.99" r="2.35" fill="#8da0cb" stroke="#ffffff" stroke-width="0.45"/>
<circle cx="509.12" cy="327.47" r="2.35" fill="#8da0cb" stroke="#ffffff" stroke-width="0.45"/>
<circle cx="506.28" cy="328.47" r="2.35" fill="#8da0cb" stroke="#ffffff" stroke-width="0.45"/>
<circle cx="520.48" cy="327.05" r="2.35" fill="#8da0cb" stroke="#ffffff" stroke-width="0.45"/>
<circle cx="518.35" cy="329.18" r="2.35" fill="#8da0cb" stroke="#ffffff" stroke-width="0.45"/>
<circle cx="510.54" cy="331.31" r="2.35" fill="#8da0cb" stroke="#ffffff" stroke-width="0.45"/>
<circle cx="505.57" cy="332.44" r="2.35" fill="#8da0cb" stroke="#ffffff" stroke-width="0.45"/>
<circle cx="514.09" cy="332.73" r="2.35" fill="#8da0cb" stroke="#ffffff" stroke-width="0.45"/>
<circle cx="518.35" cy="332.02" r="2.35" fill="#8da0cb" stroke="#ffffff" stroke-width="0.45"/>
<circle cx="509.83" cy="335.99" r="2.35" fill="#8da0cb" stroke="#ffffff" stroke-width="0.45"/>
<circle cx="514.09" cy="336.28" r="2.35" fill="#8da0cb" stroke="#ffffff" stroke-width="0.45"/>
<circle cx="519.06" cy="336.7" r="2.35" fill="#8da0cb" stroke="#ffffff" stroke-width="0.45"/>
<circle cx="524.74" cy="336.99" r="2.35" fill="#8da0cb" stroke="#ffffff" stroke-width="0.45"/>
<circle cx="503.44" cy="337.7" r="2.35" fill="#8da0cb" stroke="#ffffff" stroke-width="0.45"/>
<circle cx="502.02" cy="340.54" r="2.35" fill="#8da0cb" stroke="#ffffff" stroke-width="0.45"/>
<circle cx="508.41" cy="340.54" r="2.35" fill="#8da0cb" stroke="#ffffff" stroke-width="0.45"/>
<circle cx="510.54" cy="340.54" r="2.35" fill="#8da0cb" stroke="#ffffff" stroke-width="0.45"/>
<circle cx="514.8" cy="340.54" r="2.35" fill="#8da0cb" stroke="#ffffff" stroke-width="0.45"/>
<circle cx="517.64" cy="341.96" r="2.35" fill="#8da0cb" stroke="#ffffff" stroke-width="0.45"/>
<circle cx="521.19" cy="340.54" r="2.35" fill="#8da0cb" stroke="#ffffff" stroke-width="0.45"/>
<circle cx="525.45" cy="340.54" r="2.35" fill="#8da0cb" stroke="#ffffff" stroke-width="0.45"/>
<circle cx="528.3" cy="340.11" r="2.35" fill="#8da0cb" stroke="#ffffff" stroke-width="0.45"/>
<circle cx="514.09" cy="343.38" r="2.35" fill="#8da0cb" stroke="#ffffff" stroke-width="0.45"/>
<circle cx="517.64" cy="344.09" r="2.35" fill="#8da0cb" stroke="#ffffff" stroke-width="0.45"/>
<circle cx="522.61" cy="343.38" r="2.35" fill="#8da0cb" stroke="#ffffff" stroke-width="0.45"/>
<circle cx="526.88" cy="343.81" r="2.35" fill="#8da0cb" stroke="#ffffff" stroke-width="0.45"/>
<circle cx="508.41" cy="345.51" r="2.35" fill="#8da0cb" stroke="#ffffff" stroke-width="0.45"/>
<circle cx="514.09" cy="347.22" r="2.35" fill="#8da0cb" stroke="#ffffff" stroke-width="0.45"/>
<circle cx="518.35" cy="347.64" r="2.35" fill="#8da0cb" stroke="#ffffff" stroke-width="0.45"/>
<circle cx="521.19" cy="346.65" r="2.35" fill="#8da0cb" stroke="#ffffff" stroke-width="0.45"/>
<circle cx="525.45" cy="347.22" r="2.35" fill="#8da0cb" stroke="#ffffff" stroke-width="0.45"/>
<circle cx="529.01" cy="347.64" r="2.35" fill="#8da0cb" stroke="#ffffff" stroke-width="0.45"/>
<circle cx="506.28" cy="349.49" r="2.35" fill="#8da0cb" stroke="#ffffff" stroke-width="0.45"/>
<circle cx="520.48" cy="349.06" r="2.35" fill="#8da0cb" stroke="#ffffff" stroke-width="0.45"/>
<circle cx="522.61" cy="351.19" r="2.35" fill="#8da0cb" stroke="#ffffff" stroke-width="0.45"/>
<circle cx="526.16" cy="350.48" r="2.35" fill="#8da0cb" stroke="#ffffff" stroke-width="0.45"/>
<circle cx="529.72" cy="350.48" r="2.35" fill="#8da0cb" stroke="#ffffff" stroke-width="0.45"/>
<circle cx="524.74" cy="354.46" r="2.35" fill="#8da0cb" stroke="#ffffff" stroke-width="0.45"/>
<circle cx="527.59" cy="356.59" r="2.35" fill="#8da0cb" stroke="#ffffff" stroke-width="0.45"/>
<circle cx="476.79" cy="314.91" r="2.35" fill="#8da0cb" stroke="#ffffff" stroke-width="0.45"/>
<circle cx="474.66" cy="322.74" r="2.35" fill="#8da0cb" stroke="#ffffff" stroke-width="0.45"/>
<circle cx="477.79" cy="329.85" r="2.35" fill="#8da0cb" stroke="#ffffff" stroke-width="0.45"/>
<circle cx="478.5" cy="332.7" r="2.35" fill="#8da0cb" stroke="#ffffff" stroke-width="0.45"/>
<circle cx="466.12" cy="337.39" r="2.35" fill="#8da0cb" stroke="#ffffff" stroke-width="0.45"/>
<circle cx="473.23" cy="336.68" r="2.35" fill="#8da0cb" stroke="#ffffff" stroke-width="0.45"/>
<circle cx="476.65" cy="340.23" r="2.35" fill="#8da0cb" stroke="#ffffff" stroke-width="0.45"/>
<circle cx="480.63" cy="336.96" r="2.35" fill="#8da0cb" stroke="#ffffff" stroke-width="0.45"/>
<circle cx="487.74" cy="329.85" r="2.35" fill="#8da0cb" stroke="#ffffff" stroke-width="0.45"/>
<circle cx="487.74" cy="336.96" r="2.35" fill="#8da0cb" stroke="#ffffff" stroke-width="0.45"/>
<circle cx="500.63" cy="266.2" r="2.35" fill="#e78ac3" stroke="#ffffff" stroke-width="0.45"/>
<circle cx="483.41" cy="292.11" r="2.35" fill="#e78ac3" stroke="#ffffff" stroke-width="0.45"/>
<circle cx="508.7" cy="285.28" r="2.35" fill="#e78ac3" stroke="#ffffff" stroke-width="0.45"/>
<circle cx="513.81" cy="287.61" r="2.35" fill="#e78ac3" stroke="#ffffff" stroke-width="0.45"/>
<circle cx="515.99" cy="290.25" r="2.35" fill="#e78ac3" stroke="#ffffff" stroke-width="0.45"/>
<circle cx="506.37" cy="291.02" r="2.35" fill="#e78ac3" stroke="#ffffff" stroke-width="0.45"/>
<circle cx="503.27" cy="293.04" r="2.35" fill="#e78ac3" stroke="#ffffff" stroke-width="0.45"/>
<circle cx="512.57" cy="293.04" r="2.35" fill="#e78ac3" stroke="#ffffff" stroke-width="0.45"/>
<circle cx="518.47" cy="294.9" r="2.35" fill="#e78ac3" stroke="#ffffff" stroke-width="0.45"/>
<circle cx="522.66" cy="295.99" r="2.35" fill="#e78ac3" stroke="#ffffff" stroke-width="0.45"/>
<circle cx="498.61" cy="296.92" r="2.35" fill="#e78ac3" stroke="#ffffff" stroke-width="0.45"/>
<circle cx="495.51" cy="298" r="2.35" fill="#e78ac3" stroke="#ffffff" stroke-width="0.45"/>
<circle cx="504.04" cy="298" r="2.35" fill="#e78ac3" stroke="#ffffff" stroke-width="0.45"/>
<circle cx="508.7" cy="297.69" r="2.35" fill="#e78ac3" stroke="#ffffff" stroke-width="0.45"/>
<circle cx="514.12" cy="297.23" r="2.35" fill="#e78ac3" stroke="#ffffff" stroke-width="0.45"/>
<circle cx="517.23" cy="298.47" r="2.35" fill="#e78ac3" stroke="#ffffff" stroke-width="0.45"/>
<circle cx="529.64" cy="300.79" r="2.35" fill="#e78ac3" stroke="#ffffff" stroke-width="0.45"/>
<circle cx="547.94" cy="304.98" r="2.35" fill="#e78ac3" stroke="#ffffff" stroke-width="0.45"/>
<circle cx="486.51" cy="300.64" r="2.35" fill="#e78ac3" stroke="#ffffff" stroke-width="0.45"/>
<circle cx="493.96" cy="300.33" r="2.35" fill="#e78ac3" stroke="#ffffff" stroke-width="0.45"/>
<circle cx="499.39" cy="301.57" r="2.35" fill="#e78ac3" stroke="#ffffff" stroke-width="0.45"/>
<circle cx="504.04" cy="302.66" r="2.35" fill="#e78ac3" stroke="#ffffff" stroke-width="0.45"/>
<circle cx="508.7" cy="301.57" r="2.35" fill="#e78ac3" stroke="#ffffff" stroke-width="0.45"/>
<circle cx="513.35" cy="301.88" r="2.35" fill="#e78ac3" stroke="#ffffff" stroke-width="0.45"/>
<circle cx="517.23" cy="303.43" r="2.35" fill="#e78ac3" stroke="#ffffff" stroke-width="0.45"/>
<circle cx="521.1" cy="303.74" r="2.35" fill="#e78ac3" stroke="#ffffff" stroke-width="0.45"/>
<circle cx="480.78" cy="304.21" r="2.35" fill="#e78ac3" stroke="#ffffff" stroke-width="0.45"/>
<circle cx="485.43" cy="304.21" r="2.35" fill="#e78ac3" stroke="#ffffff" stroke-width="0.45"/>
<circle cx="484.34" cy="306.53" r="2.35" fill="#e78ac3" stroke="#ffffff" stroke-width="0.45"/>
<circle cx="493.65" cy="306.53" r="2.35" fill="#e78ac3" stroke="#ffffff" stroke-width="0.45"/>
<circle cx="500.16" cy="305.76" r="2.35" fill="#e78ac3" stroke="#ffffff" stroke-width="0.45"/>
<circle cx="503.27" cy="306.53" r="2.35" fill="#e78ac3" stroke="#ffffff" stroke-width="0.45"/>
<circle cx="507.92" cy="304.98" r="2.35" fill="#e78ac3" stroke="#ffffff" stroke-width="0.45"/>
<circle cx="518" cy="305.45" r="2.35" fill="#e78ac3" stroke="#ffffff" stroke-width="0.45"/>
<circle cx="501.41" cy="308.08" r="2.35" fill="#e78ac3" stroke="#ffffff" stroke-width="0.45"/>
<circle cx="507.92" cy="308.86" r="2.35" fill="#e78ac3" stroke="#ffffff" stroke-width="0.45"/>
<circle cx="505.59" cy="310.41" r="2.35" fill="#e78ac3" stroke="#ffffff" stroke-width="0.45"/>
<circle cx="507.92" cy="311.5" r="2.35" fill="#e78ac3" stroke="#ffffff" stroke-width="0.45"/>
<circle cx="495.51" cy="313.51" r="2.35" fill="#e78ac3" stroke="#ffffff" stroke-width="0.45"/>
<circle cx="511.02" cy="295.37" r="2.35" fill="#e78ac3" stroke="#ffffff" stroke-width="0.45"/>
<circle cx="506.37" cy="295.37" r="2.35" fill="#e78ac3" stroke="#ffffff" stroke-width="0.45"/>
<circle cx="501.72" cy="299.55" r="2.35" fill="#e78ac3" stroke="#ffffff" stroke-width="0.45"/>
<circle cx="511.02" cy="299.55" r="2.35" fill="#e78ac3" stroke="#ffffff" stroke-width="0.45"/>
<circle cx="506.37" cy="300.02" r="2.35" fill="#e78ac3" stroke="#ffffff" stroke-width="0.45"/>
<circle cx="511.02" cy="304.21" r="2.35" fill="#e78ac3" stroke="#ffffff" stroke-width="0.45"/>
<circle cx="514.12" cy="305.76" r="2.35" fill="#e78ac3" stroke="#ffffff" stroke-width="0.45"/>
<circle cx="504.82" cy="304.98" r="2.35" fill="#e78ac3" stroke="#ffffff" stroke-width="0.45"/>
<circle cx="495.62" cy="313.12" r="2.35" fill="#e78ac3" stroke="#ffffff" stroke-width="0.45"/>
<circle cx="506.28" cy="311.14" r="2.35" fill="#e78ac3" stroke="#ffffff" stroke-width="0.45"/>
<circle cx="444.79" cy="309.22" r="2.35" fill="#fa8e65" stroke="#ffffff" stroke-width="0.45"/>
<circle cx="464.7" cy="312.07" r="2.35" fill="#fa8e65" stroke="#ffffff" stroke-width="0.45"/>
<circle cx="442.94" cy="314.91" r="2.35" fill="#fa8e65" stroke="#ffffff" stroke-width="0.45"/>
<circle cx="447.2" cy="313.49" r="2.35" fill="#fa8e65" stroke="#ffffff" stroke-width="0.45"/>
<circle cx="450.76" cy="315.63" r="2.35" fill="#fa8e65" stroke="#ffffff" stroke-width="0.45"/>
<circle cx="454.32" cy="316.34" r="2.35" fill="#fa8e65" stroke="#ffffff" stroke-width="0.45"/>
<circle cx="457.87" cy="314.2" r="2.35" fill="#fa8e65" stroke="#ffffff" stroke-width="0.45"/>
<circle cx="460.01" cy="315.63" r="2.35" fill="#fa8e65" stroke="#ffffff" stroke-width="0.45"/>
<circle cx="438.67" cy="322.03" r="2.35" fill="#fa8e65" stroke="#ffffff" stroke-width="0.45"/>
<circle cx="445.07" cy="321.32" r="2.35" fill="#fa8e65" stroke="#ffffff" stroke-width="0.45"/>
<circle cx="449.34" cy="319.89" r="2.35" fill="#fa8e65" stroke="#ffffff" stroke-width="0.45"/>
<circle cx="454.32" cy="320.6" r="2.35" fill="#fa8e65" stroke="#ffffff" stroke-width="0.45"/>
<circle cx="458.58" cy="320.6" r="2.35" fill="#fa8e65" stroke="#ffffff" stroke-width="0.45"/>
<circle cx="462.85" cy="322.03" r="2.35" fill="#fa8e65" stroke="#ffffff" stroke-width="0.45"/>
<circle cx="464.27" cy="319.18" r="2.35" fill="#fa8e65" stroke="#ffffff" stroke-width="0.45"/>
<circle cx="434.83" cy="325.16" r="2.35" fill="#fa8e65" stroke="#ffffff" stroke-width="0.45"/>
<circle cx="442.22" cy="325.58" r="2.35" fill="#fa8e65" stroke="#ffffff" stroke-width="0.45"/>
<circle cx="446.49" cy="324.87" r="2.35" fill="#fa8e65" stroke="#ffffff" stroke-width="0.45"/>
<circle cx="450.76" cy="325.58" r="2.35" fill="#fa8e65" stroke="#ffffff" stroke-width="0.45"/>
<circle cx="453.6" cy="327.01" r="2.35" fill="#fa8e65" stroke="#ffffff" stroke-width="0.45"/>
<circle cx="457.87" cy="324.87" r="2.35" fill="#fa8e65" stroke="#ffffff" stroke-width="0.45"/>
<circle cx="464.27" cy="328.43" r="2.35" fill="#fa8e65" stroke="#ffffff" stroke-width="0.45"/>
<circle cx="470.67" cy="325.16" r="2.35" fill="#fa8e65" stroke="#ffffff" stroke-width="0.45"/>
<circle cx="483.19" cy="327.01" r="2.35" fill="#fa8e65" stroke="#ffffff" stroke-width="0.45"/>
<circle cx="437.96" cy="329.14" r="2.35" fill="#fa8e65" stroke="#ffffff" stroke-width="0.45"/>
<circle cx="442.22" cy="330.56" r="2.35" fill="#fa8e65" stroke="#ffffff" stroke-width="0.45"/>
<circle cx="446.49" cy="330.56" r="2.35" fill="#fa8e65" stroke="#ffffff" stroke-width="0.45"/>
<circle cx="450.76" cy="332.7" r="2.35" fill="#fa8e65" stroke="#ffffff" stroke-width="0.45"/>
<circle cx="455.74" cy="331.7" r="2.35" fill="#fa8e65" stroke="#ffffff" stroke-width="0.45"/>
<circle cx="445.78" cy="335.54" r="2.35" fill="#fa8e65" stroke="#ffffff" stroke-width="0.45"/>
<circle cx="454.74" cy="335.11" r="2.35" fill="#fa8e65" stroke="#ffffff" stroke-width="0.45"/>
<circle cx="449.34" cy="329.14" r="2.35" fill="#fa8e65" stroke="#ffffff" stroke-width="0.45"/>
<circle cx="447.91" cy="317.76" r="2.35" fill="#fa8e65" stroke="#ffffff" stroke-width="0.45"/>
<circle cx="452.18" cy="318.47" r="2.35" fill="#fa8e65" stroke="#ffffff" stroke-width="0.45"/>
<circle cx="456.45" cy="318.47" r="2.35" fill="#fa8e65" stroke="#ffffff" stroke-width="0.45"/>
<circle cx="460.72" cy="318.47" r="2.35" fill="#fa8e65" stroke="#ffffff" stroke-width="0.45"/>
<circle cx="440.8" cy="318.47" r="2.35" fill="#fa8e65" stroke="#ffffff" stroke-width="0.45"/>
<circle cx="443.65" cy="323.45" r="2.35" fill="#fa8e65" stroke="#ffffff" stroke-width="0.45"/>
<circle cx="447.91" cy="322.74" r="2.35" fill="#fa8e65" stroke="#ffffff" stroke-width="0.45"/>
<circle cx="452.18" cy="323.45" r="2.35" fill="#fa8e65" stroke="#ffffff" stroke-width="0.45"/>
<circle cx="456.45" cy="322.74" r="2.35" fill="#fa8e65" stroke="#ffffff" stroke-width="0.45"/>
<circle cx="460.43" cy="324.16" r="2.35" fill="#fa8e65" stroke="#ffffff" stroke-width="0.45"/>
<circle cx="440.09" cy="327.01" r="2.35" fill="#fa8e65" stroke="#ffffff" stroke-width="0.45"/>
<circle cx="444.36" cy="328" r="2.35" fill="#fa8e65" stroke="#ffffff" stroke-width="0.45"/>
<circle cx="448.63" cy="327.01" r="2.35" fill="#fa8e65" stroke="#ffffff" stroke-width="0.45"/>
<circle cx="452.89" cy="329.85" r="2.35" fill="#fa8e65" stroke="#ffffff" stroke-width="0.45"/>
<circle cx="457.16" cy="328" r="2.35" fill="#fa8e65" stroke="#ffffff" stroke-width="0.45"/>
<circle cx="447.91" cy="333.41" r="2.35" fill="#fa8e65" stroke="#ffffff" stroke-width="0.45"/>
<circle cx="451.47" cy="335.54" r="2.35" fill="#fa8e65" stroke="#ffffff" stroke-width="0.45"/>
<circle cx="443.65" cy="333.12" r="2.35" fill="#fa8e65" stroke="#ffffff" stroke-width="0.45"/>
<circle cx="440.8" cy="331.27" r="2.35" fill="#fa8e65" stroke="#ffffff" stroke-width="0.45"/>
<circle cx="436.53" cy="327.01" r="2.35" fill="#fa8e65" stroke="#ffffff" stroke-width="0.45"/>
<circle cx="483.12" cy="327.05" r="2.35" fill="#fa8e65" stroke="#ffffff" stroke-width="0.45"/>
<rect x="429.5" y="261.7" width="124.1" height="99.1" fill="none" stroke="#262626" stroke-width="0.9"/>
<text x="423" y="281" font-size="9.3" text-anchor="end">4</text>
<text x="423" y="302.4" font-size="9.3" text-anchor="end">2</text>
<text x="423" y="323.8" font-size="9.3" text-anchor="end">0</text>
<text x="423" y="345.5" font-size="9.3" text-anchor="end">−2</text>
<text x="446.2" y="373.9" font-size="9.3" text-anchor="middle">−2</text>
<text x="477.6" y="373.9" font-size="9.3" text-anchor="middle">0</text>
<text x="509.2" y="373.9" font-size="9.3" text-anchor="middle">2</text>
<text x="540.6" y="373.9" font-size="9.3" text-anchor="middle">4</text>
<text x="469.8" y="384.7" font-size="8.8" textLength="43.6" lengthAdjust="spacingAndGlyphs">PC1 (48%)</text>
<text x="407.9" y="311" font-size="8.8" text-anchor="middle" textLength="44.1" lengthAdjust="spacingAndGlyphs" transform="rotate(-90 407.9 311)">PC2 (21%)</text>
<text x="571.6" y="248.8" font-size="12.5" font-weight="bold" fill="#000000">i</text>
<rect x="597.9" y="266.7" width="8.3" height="15" fill="#bebada"/>
<rect x="597.9" y="281.7" width="8.3" height="14.4" fill="#b3de69"/>
<rect x="597.9" y="296.1" width="8.3" height="15" fill="#fdb462"/>
<rect x="597.9" y="311.1" width="8.3" height="10.4" fill="#fff2ae"/>
<rect x="597.9" y="321.5" width="8.3" height="11.4" fill="#8dd3c7"/>
<rect x="597.9" y="332.9" width="8.3" height="8.9" fill="#d9d9d9"/>
<rect x="597.9" y="341.8" width="8.3" height="7.2" fill="#fccde5"/>
<rect x="597.9" y="349" width="8.3" height="5" fill="#fb8072"/>
<rect x="597.9" y="354" width="8.3" height="3" fill="#80b1d3"/>
<rect x="608.5" y="266.7" width="8.5" height="16.2" fill="#80b1d3"/>
<rect x="608.5" y="282.9" width="8.5" height="15.8" fill="#fff2ae"/>
<rect x="608.5" y="298.7" width="8.5" height="14.6" fill="#8dd3c7"/>
<rect x="608.5" y="313.3" width="8.5" height="12.4" fill="#fb8072"/>
<rect x="608.5" y="325.7" width="8.5" height="13" fill="#d9d9d9"/>
<rect x="608.5" y="338.7" width="8.5" height="8.1" fill="#fccde5"/>
<rect x="608.5" y="346.8" width="8.5" height="6.9" fill="#fdb462"/>
<rect x="608.5" y="353.7" width="8.5" height="3.3" fill="#b3de69"/>
<rect x="596.2" y="262.2" width="22.4" height="94.9" fill="none" stroke="#262626" stroke-width="0.9"/>
<text x="589.2" y="270.3" font-size="8.6" text-anchor="end" textLength="15.6" lengthAdjust="spacingAndGlyphs">1.00</text>
<text x="589.2" y="292.9" font-size="8.6" text-anchor="end" textLength="15.6" lengthAdjust="spacingAndGlyphs">0.75</text>
<text x="589.2" y="315.5" font-size="8.6" text-anchor="end" textLength="15.6" lengthAdjust="spacingAndGlyphs">0.50</text>
<text x="589.2" y="338.1" font-size="8.6" text-anchor="end" textLength="15.6" lengthAdjust="spacingAndGlyphs">0.25</text>
<text x="589.2" y="360.7" font-size="8.6" text-anchor="end" textLength="15.6" lengthAdjust="spacingAndGlyphs">0.00</text>
<text x="568.3" y="309.9" font-size="8.3" text-anchor="middle" textLength="65" lengthAdjust="spacingAndGlyphs" transform="rotate(-90 568.3 309.9)">Contribution to PC</text>
<text x="600.2" y="368.5" font-size="8.3" text-anchor="end" transform="rotate(-45 600.2 368.5)">PC1</text>
<text x="611.2" y="369" font-size="8.3" text-anchor="end" transform="rotate(-45 611.2 369)">PC2</text>
<rect x="622.6" y="266.2" width="61.8" height="119.3" rx="1.5" fill="#ffffff" stroke="#dcdcdc" stroke-width="0.8"/>
<text x="653.9" y="275.3" font-size="8.05" text-anchor="middle" textLength="28.2" lengthAdjust="spacingAndGlyphs">Statistic</text>
<rect x="626.8" y="281.9" width="16.2" height="5.0" fill="#d9d9d9"/>
<text x="649.7" y="287.2" font-size="8.05">Distance</text>
<rect x="626.8" y="293.5" width="16.2" height="5.0" fill="#bebada"/>
<text x="649.7" y="298.8" font-size="8.05">Dlk1</text>
<rect x="626.8" y="305.1" width="16.2" height="5.0" fill="#b3de69"/>
<text x="649.7" y="310.4" font-size="8.05">Dlk2</text>
<rect x="626.8" y="316.7" width="16.2" height="5.0" fill="#fb8072"/>
<text x="649.7" y="322" font-size="8.05">Rg1</text>
<rect x="626.8" y="328.3" width="16.2" height="5.0" fill="#fccde5"/>
<text x="649.7" y="333.6" font-size="8.05">Rg2</text>
<rect x="626.8" y="339.9" width="16.2" height="5.0" fill="#fff2ae"/>
<text x="649.7" y="345.2" font-size="8.05">Tw1</text>
<rect x="626.8" y="351.5" width="16.2" height="5.0" fill="#fdb462"/>
<text x="649.7" y="356.8" font-size="8.05">Tw2</text>
<rect x="626.8" y="363.1" width="16.2" height="5.0" fill="#8dd3c7"/>
<text x="649.7" y="368.4" font-size="8.05">Wr1</text>
<rect x="626.8" y="374.7" width="16.2" height="5.0" fill="#80b1d3"/>
<text x="649.7" y="380" font-size="8.05">Wr2</text>
</g>
</svg>
</body></html>
